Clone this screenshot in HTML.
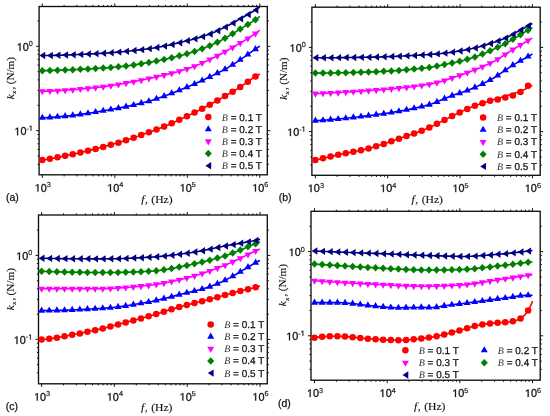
<!DOCTYPE html>
<html><head><meta charset="utf-8"><style>
html,body{margin:0;padding:0;background:#fff;}
svg{display:block;filter:blur(0.3px);}
.tl{font-family:"Liberation Sans",sans-serif;font-size:10.8px;fill:#111;stroke:#111;stroke-width:0.3px;}
.sup{font-size:7.3px;stroke-width:0.15px;}
.one{fill:#111;stroke:#111;stroke-width:0.3px;}
.sub{font-size:6.8px;}
.yl{font-size:10.1px;}
.al{font-family:"Liberation Serif",serif;font-size:10.3px;fill:#111;stroke:#111;stroke-width:0.12px;}
.pl{font-family:"Liberation Sans",sans-serif;font-size:10.5px;fill:#111;stroke:#111;stroke-width:0.25px;}
.lg{font-family:"Liberation Sans",sans-serif;font-size:10px;fill:#111;stroke:#111;stroke-width:0.25px;}
.B{font-family:"Liberation Serif",serif;font-style:italic;font-size:10px;stroke:none;fill:#333;}
</style></head><body>
<svg width="550" height="416" viewBox="0 0 550 416">
<rect width="550" height="416" fill="#fff"/>
<rect x="39.1" y="6.5" width="228.2" height="168.3" fill="none" stroke="#111" stroke-width="1.35"/>
<path d="M42.3 174.8v3.0M42.3 6.5v-3.0M64.12 174.8v1.6M64.12 6.5v-1.6M76.89 174.8v1.6M76.89 6.5v-1.6M85.95 174.8v1.6M85.95 6.5v-1.6M92.98 174.8v1.6M92.98 6.5v-1.6M98.72 174.8v1.6M98.72 6.5v-1.6M103.57 174.8v1.6M103.57 6.5v-1.6M107.77 174.8v1.6M107.77 6.5v-1.6M111.48 174.8v1.6M111.48 6.5v-1.6M114.8 174.8v3.0M114.8 6.5v-3.0M136.62 174.8v1.6M136.62 6.5v-1.6M149.39 174.8v1.6M149.39 6.5v-1.6M158.45 174.8v1.6M158.45 6.5v-1.6M165.48 174.8v1.6M165.48 6.5v-1.6M171.22 174.8v1.6M171.22 6.5v-1.6M176.07 174.8v1.6M176.07 6.5v-1.6M180.27 174.8v1.6M180.27 6.5v-1.6M183.98 174.8v1.6M183.98 6.5v-1.6M187.3 174.8v3.0M187.3 6.5v-3.0M209.12 174.8v1.6M209.12 6.5v-1.6M221.89 174.8v1.6M221.89 6.5v-1.6M230.95 174.8v1.6M230.95 6.5v-1.6M237.98 174.8v1.6M237.98 6.5v-1.6M243.72 174.8v1.6M243.72 6.5v-1.6M248.57 174.8v1.6M248.57 6.5v-1.6M252.77 174.8v1.6M252.77 6.5v-1.6M256.48 174.8v1.6M256.48 6.5v-1.6M259.8 174.8v3.0M259.8 6.5v-3.0M39.1 164.29h-1.6M267.3 164.29h1.6M39.1 156.11h-1.6M267.3 156.11h1.6M39.1 149.42h-1.6M267.3 149.42h1.6M39.1 143.77h-1.6M267.3 143.77h1.6M39.1 138.88h-1.6M267.3 138.88h1.6M39.1 134.56h-1.6M267.3 134.56h1.6M39.1 130.7h-3.0M267.3 130.7h3.0M39.1 105.29h-1.6M267.3 105.29h1.6M39.1 90.43h-1.6M267.3 90.43h1.6M39.1 79.89h-1.6M267.3 79.89h1.6M39.1 71.71h-1.6M267.3 71.71h1.6M39.1 65.02h-1.6M267.3 65.02h1.6M39.1 59.37h-1.6M267.3 59.37h1.6M39.1 54.48h-1.6M267.3 54.48h1.6M39.1 50.16h-1.6M267.3 50.16h1.6M39.1 46.3h-3.0M267.3 46.3h3.0M39.1 20.89h-1.6M267.3 20.89h1.6" stroke="#111" stroke-width="1" fill="none"/>
<path d="M37.48 191.6L37.48 185.08L35.8 186.27L35.8 185.38L37.56 184.17L38.44 184.17L38.44 191.6Z" class="one"/><text x="40.77" y="191.6" class="tl">0</text><text transform="translate(46.78 187.1) skewX(0.4)" class="tl sup">3</text>
<path d="M109.98 191.6L109.98 185.08L108.3 186.27L108.3 185.38L110.06 184.17L110.94 184.17L110.94 191.6Z" class="one"/><text x="113.27" y="191.6" class="tl">0</text><text transform="translate(119.28 187.1) skewX(0.4)" class="tl sup">4</text>
<path d="M182.48 191.6L182.48 185.08L180.8 186.27L180.8 185.38L182.56 184.17L183.44 184.17L183.44 191.6Z" class="one"/><text x="185.77" y="191.6" class="tl">0</text><text transform="translate(191.78 187.1) skewX(0.4)" class="tl sup">5</text>
<path d="M254.98 191.6L254.98 185.08L253.3 186.27L253.3 185.38L255.06 184.17L255.94 184.17L255.94 191.6Z" class="one"/><text x="258.27" y="191.6" class="tl">0</text><text transform="translate(264.28 187.1) skewX(0.4)" class="tl sup">6</text>
<path d="M19.55 50.8L19.55 44.28L17.87 45.47L17.87 44.58L19.63 43.37L20.5 43.37L20.5 50.8Z" class="one"/><text x="22.84" y="50.8" class="tl">0</text><text transform="translate(28.84 46.3) skewX(0.4)" class="tl sup">0</text>
<path d="M17.12 135.2L17.12 128.68L15.44 129.87L15.44 128.98L17.2 127.77L18.07 127.77L18.07 135.2ZM30.68 130.7L30.68 126.29L29.54 127.1L29.54 126.49L30.73 125.68L31.32 125.68L31.32 130.7Z" class="one"/><text x="20.41" y="135.2" class="tl">0</text><text transform="translate(26.41 130.7) skewX(0.4)" class="tl sup">-</text>
<text transform="translate(156.9 203) scale(1.13 1)" text-anchor="middle" class="al"><tspan font-style="italic">f</tspan><tspan dx="0.5">,</tspan><tspan dx="0.5"> (Hz)</tspan></text>
<text transform="translate(13.9 99.2) rotate(-90) scale(1.085 1)" class="al yl"><tspan font-style="italic">k</tspan><tspan class="sub" font-style="italic" dx="0.3" dy="2.3">x</tspan><tspan dx="1.1" dy="-2.3">,</tspan><tspan dx="-0.4"> (N/m)</tspan></text>
<text x="6" y="200.8" class="pl">(a)</text>
<path d="M42.3 160.1L44.13 159.8L45.96 159.48L47.78 159.17L49.61 158.84L51.44 158.51L53.27 158.18L55.09 157.84L56.92 157.49L58.75 157.13L60.58 156.77L62.41 156.41L64.23 156.04L66.06 155.66L67.89 155.28L69.72 154.89L71.54 154.49L73.37 154.1L75.2 153.69L77.03 153.28L78.85 152.87L80.68 152.45L82.51 152.03L84.34 151.6L86.17 151.17L87.99 150.74L89.82 150.3L91.65 149.85L93.48 149.41L95.3 148.96L97.13 148.5L98.96 148.03L100.79 147.56L102.62 147.08L104.44 146.6L106.27 146.1L108.1 145.6L109.93 145.1L111.75 144.58L113.58 144.06L115.41 143.53L117.24 143L119.06 142.45L120.89 141.89L122.72 141.32L124.55 140.73L126.38 140.14L128.2 139.53L130.03 138.92L131.86 138.3L133.69 137.68L135.51 137.06L137.34 136.43L139.17 135.79L141 135.15L142.83 134.5L144.65 133.84L146.48 133.17L148.31 132.51L150.14 131.85L151.96 131.19L153.79 130.51L155.62 129.82L157.45 129.12L159.27 128.4L161.1 127.68L162.93 126.94L164.76 126.18L166.59 125.41L168.41 124.64L170.24 123.86L172.07 123.08L173.9 122.28L175.72 121.47L177.55 120.65L179.38 119.82L181.21 118.98L183.04 118.13L184.86 117.26L186.69 116.39L188.52 115.52L190.35 114.64L192.17 113.75L194 112.85L195.83 111.94L197.66 111.02L199.48 110.1L201.31 109.17L203.14 108.21L204.97 107.24L206.8 106.26L208.62 105.27L210.45 104.28L212.28 103.27L214.11 102.25L215.93 101.23L217.76 100.21L219.59 99.18L221.42 98.15L223.25 97.11L225.07 96.07L226.9 95.02L228.73 93.96L230.56 92.89L232.38 91.81L234.21 90.71L236.04 89.59L237.87 88.47L239.69 87.32L241.52 86.15L243.35 84.9L245.18 83.61L247.01 82.3L248.83 80.99L250.66 79.72L252.49 78.45L254.32 77.22L256.14 76.07L257.97 75L259.8 74" fill="none" stroke="#ff0000" stroke-width="1.6"/>
<circle cx="42.3" cy="160.1" r="3.25" fill="#ff0000"/>
<circle cx="49.91" cy="158.79" r="3.25" fill="#ff0000"/>
<circle cx="57.52" cy="157.37" r="3.25" fill="#ff0000"/>
<circle cx="65.14" cy="155.85" r="3.25" fill="#ff0000"/>
<circle cx="72.75" cy="154.23" r="3.25" fill="#ff0000"/>
<circle cx="80.36" cy="152.53" r="3.25" fill="#ff0000"/>
<circle cx="87.97" cy="150.74" r="3.25" fill="#ff0000"/>
<circle cx="95.59" cy="148.88" r="3.25" fill="#ff0000"/>
<circle cx="103.2" cy="146.93" r="3.25" fill="#ff0000"/>
<circle cx="110.81" cy="144.85" r="3.25" fill="#ff0000"/>
<circle cx="118.42" cy="142.64" r="3.25" fill="#ff0000"/>
<circle cx="126.04" cy="140.25" r="3.25" fill="#ff0000"/>
<circle cx="133.65" cy="137.7" r="3.25" fill="#ff0000"/>
<circle cx="141.26" cy="135.05" r="3.25" fill="#ff0000"/>
<circle cx="148.88" cy="132.3" r="3.25" fill="#ff0000"/>
<circle cx="156.49" cy="129.49" r="3.25" fill="#ff0000"/>
<circle cx="164.1" cy="126.46" r="3.25" fill="#ff0000"/>
<circle cx="171.71" cy="123.24" r="3.25" fill="#ff0000"/>
<circle cx="179.32" cy="119.84" r="3.25" fill="#ff0000"/>
<circle cx="186.94" cy="116.28" r="3.25" fill="#ff0000"/>
<circle cx="194.55" cy="112.57" r="3.25" fill="#ff0000"/>
<circle cx="202.16" cy="108.72" r="3.25" fill="#ff0000"/>
<circle cx="209.77" cy="104.65" r="3.25" fill="#ff0000"/>
<circle cx="217.39" cy="100.42" r="3.25" fill="#ff0000"/>
<circle cx="225" cy="96.11" r="3.25" fill="#ff0000"/>
<circle cx="232.61" cy="91.67" r="3.25" fill="#ff0000"/>
<circle cx="240.22" cy="86.99" r="3.25" fill="#ff0000"/>
<circle cx="247.84" cy="81.7" r="3.25" fill="#ff0000"/>
<circle cx="255.45" cy="76.49" r="3.25" fill="#ff0000"/>
<path d="M42.3 117.8L44.13 117.71L45.96 117.62L47.78 117.52L49.61 117.41L51.44 117.29L53.27 117.17L55.09 117.04L56.92 116.89L58.75 116.74L60.58 116.58L62.41 116.42L64.23 116.26L66.06 116.09L67.89 115.91L69.72 115.73L71.54 115.54L73.37 115.33L75.2 115.11L77.03 114.88L78.85 114.64L80.68 114.39L82.51 114.14L84.34 113.87L86.17 113.59L87.99 113.3L89.82 113.01L91.65 112.71L93.48 112.42L95.3 112.11L97.13 111.81L98.96 111.51L100.79 111.21L102.62 110.9L104.44 110.59L106.27 110.28L108.1 109.96L109.93 109.64L111.75 109.32L113.58 108.99L115.41 108.66L117.24 108.32L119.06 107.98L120.89 107.63L122.72 107.27L124.55 106.9L126.38 106.53L128.2 106.15L130.03 105.77L131.86 105.37L133.69 104.97L135.51 104.55L137.34 104.13L139.17 103.7L141 103.25L142.83 102.8L144.65 102.33L146.48 101.85L148.31 101.36L150.14 100.86L151.96 100.32L153.79 99.73L155.62 99.12L157.45 98.49L159.27 97.84L161.1 97.19L162.93 96.53L164.76 95.85L166.59 95.16L168.41 94.47L170.24 93.77L172.07 93.08L173.9 92.38L175.72 91.68L177.55 90.97L179.38 90.26L181.21 89.53L183.04 88.78L184.86 88.02L186.69 87.27L188.52 86.56L190.35 85.84L192.17 85.07L194 84.27L195.83 83.44L197.66 82.6L199.48 81.76L201.31 80.91L203.14 80.05L204.97 79.18L206.8 78.3L208.62 77.41L210.45 76.53L212.28 75.64L214.11 74.76L215.93 73.86L217.76 72.96L219.59 72.05L221.42 71.14L223.25 70.2L225.07 69.22L226.9 68.2L228.73 67.15L230.56 66.06L232.38 64.93L234.21 63.76L236.04 62.57L237.87 61.35L239.69 60.13L241.52 58.89L243.35 57.62L245.18 56.33L247.01 55.04L248.83 53.75L250.66 52.46L252.49 51.18L254.32 49.89L256.14 48.61L257.97 47.31L259.8 46" fill="none" stroke="#0000ff" stroke-width="1.6"/>
<path d="M42.3 113.73L45.8 119.83L38.8 119.83Z" fill="#0000ff"/>
<path d="M49.91 113.32L53.41 119.42L46.41 119.42Z" fill="#0000ff"/>
<path d="M57.52 112.77L61.02 118.87L54.02 118.87Z" fill="#0000ff"/>
<path d="M65.14 112.11L68.64 118.21L61.64 118.21Z" fill="#0000ff"/>
<path d="M72.75 111.34L76.25 117.44L69.25 117.44Z" fill="#0000ff"/>
<path d="M80.36 110.37L83.86 116.47L76.86 116.47Z" fill="#0000ff"/>
<path d="M87.97 109.23L91.47 115.33L84.47 115.33Z" fill="#0000ff"/>
<path d="M95.59 108L99.09 114.1L92.09 114.1Z" fill="#0000ff"/>
<path d="M103.2 106.73L106.7 112.83L99.7 112.83Z" fill="#0000ff"/>
<path d="M110.81 105.42L114.31 111.52L107.31 111.52Z" fill="#0000ff"/>
<path d="M118.42 104.03L121.92 110.13L114.92 110.13Z" fill="#0000ff"/>
<path d="M126.04 102.54L129.54 108.64L122.54 108.64Z" fill="#0000ff"/>
<path d="M133.65 100.91L137.15 107.01L130.15 107.01Z" fill="#0000ff"/>
<path d="M141.26 99.12L144.76 105.22L137.76 105.22Z" fill="#0000ff"/>
<path d="M148.88 97.14L152.38 103.24L145.38 103.24Z" fill="#0000ff"/>
<path d="M156.49 94.76L159.99 100.86L152.99 100.86Z" fill="#0000ff"/>
<path d="M164.1 92.03L167.6 98.13L160.6 98.13Z" fill="#0000ff"/>
<path d="M171.71 89.14L175.21 95.24L168.21 95.24Z" fill="#0000ff"/>
<path d="M179.32 86.21L182.82 92.31L175.82 92.31Z" fill="#0000ff"/>
<path d="M186.94 83.11L190.44 89.21L183.44 89.21Z" fill="#0000ff"/>
<path d="M194.55 79.95L198.05 86.05L191.05 86.05Z" fill="#0000ff"/>
<path d="M202.16 76.44L205.66 82.54L198.66 82.54Z" fill="#0000ff"/>
<path d="M209.77 72.79L213.27 78.89L206.27 78.89Z" fill="#0000ff"/>
<path d="M217.39 69.08L220.89 75.18L213.89 75.18Z" fill="#0000ff"/>
<path d="M225 65.19L228.5 71.29L221.5 71.29Z" fill="#0000ff"/>
<path d="M232.61 60.72L236.11 66.82L229.11 66.82Z" fill="#0000ff"/>
<path d="M240.22 55.71L243.72 61.81L236.72 61.81Z" fill="#0000ff"/>
<path d="M247.84 50.38L251.34 56.48L244.34 56.48Z" fill="#0000ff"/>
<path d="M255.45 45.03L258.95 51.13L251.95 51.13Z" fill="#0000ff"/>
<path d="M42.3 91.2L44.13 91.17L45.96 91.13L47.78 91.08L49.61 91.03L51.44 90.96L53.27 90.89L55.09 90.81L56.92 90.72L58.75 90.63L60.58 90.52L62.41 90.41L64.23 90.3L66.06 90.18L67.89 90.05L69.72 89.92L71.54 89.78L73.37 89.64L75.2 89.49L77.03 89.34L78.85 89.18L80.68 89.02L82.51 88.86L84.34 88.7L86.17 88.53L87.99 88.36L89.82 88.19L91.65 88.02L93.48 87.84L95.3 87.66L97.13 87.49L98.96 87.3L100.79 87.09L102.62 86.86L104.44 86.61L106.27 86.35L108.1 86.08L109.93 85.8L111.75 85.51L113.58 85.22L115.41 84.92L117.24 84.62L119.06 84.33L120.89 84.02L122.72 83.71L124.55 83.39L126.38 83.06L128.2 82.73L130.03 82.39L131.86 82.04L133.69 81.69L135.51 81.33L137.34 80.96L139.17 80.59L141 80.22L142.83 79.84L144.65 79.45L146.48 79.06L148.31 78.67L150.14 78.27L151.96 77.87L153.79 77.47L155.62 77.06L157.45 76.66L159.27 76.24L161.1 75.83L162.93 75.41L164.76 74.98L166.59 74.54L168.41 74.1L170.24 73.64L172.07 73.18L173.9 72.71L175.72 72.22L177.55 71.72L179.38 71.21L181.21 70.68L183.04 70.14L184.86 69.58L186.69 69L188.52 68.4L190.35 67.77L192.17 67.1L194 66.41L195.83 65.68L197.66 64.94L199.48 64.17L201.31 63.38L203.14 62.57L204.97 61.74L206.8 60.9L208.62 60.04L210.45 59.17L212.28 58.29L214.11 57.41L215.93 56.52L217.76 55.62L219.59 54.7L221.42 53.74L223.25 52.75L225.07 51.74L226.9 50.71L228.73 49.67L230.56 48.62L232.38 47.56L234.21 46.5L236.04 45.44L237.87 44.39L239.69 43.33L241.52 42.27L243.35 41.2L245.18 40.1L247.01 38.99L248.83 37.85L250.66 36.67L252.49 35.46L254.32 34.22L256.14 32.92L257.97 31.54L259.8 30" fill="none" stroke="#ff00ff" stroke-width="1.6"/>
<path d="M42.3 95.27L45.8 89.17L38.8 89.17Z" fill="#ff00ff"/>
<path d="M49.91 95.09L53.41 88.99L46.41 88.99Z" fill="#ff00ff"/>
<path d="M57.52 94.76L61.02 88.66L54.02 88.66Z" fill="#ff00ff"/>
<path d="M65.14 94.31L68.64 88.21L61.64 88.21Z" fill="#ff00ff"/>
<path d="M72.75 93.75L76.25 87.65L69.25 87.65Z" fill="#ff00ff"/>
<path d="M80.36 93.12L83.86 87.02L76.86 87.02Z" fill="#ff00ff"/>
<path d="M87.97 92.43L91.47 86.33L84.47 86.33Z" fill="#ff00ff"/>
<path d="M95.59 91.7L99.09 85.6L92.09 85.6Z" fill="#ff00ff"/>
<path d="M103.2 90.85L106.7 84.75L99.7 84.75Z" fill="#ff00ff"/>
<path d="M110.81 89.73L114.31 83.63L107.31 83.63Z" fill="#ff00ff"/>
<path d="M118.42 88.5L121.92 82.4L114.92 82.4Z" fill="#ff00ff"/>
<path d="M126.04 87.19L129.54 81.09L122.54 81.09Z" fill="#ff00ff"/>
<path d="M133.65 85.76L137.15 79.66L130.15 79.66Z" fill="#ff00ff"/>
<path d="M141.26 84.23L144.76 78.13L137.76 78.13Z" fill="#ff00ff"/>
<path d="M148.88 82.61L152.38 76.51L145.38 76.51Z" fill="#ff00ff"/>
<path d="M156.49 80.94L159.99 74.84L152.99 74.84Z" fill="#ff00ff"/>
<path d="M164.1 79.2L167.6 73.1L160.6 73.1Z" fill="#ff00ff"/>
<path d="M171.71 77.34L175.21 71.24L168.21 71.24Z" fill="#ff00ff"/>
<path d="M179.32 75.29L182.82 69.19L175.82 69.19Z" fill="#ff00ff"/>
<path d="M186.94 72.99L190.44 66.89L183.44 66.89Z" fill="#ff00ff"/>
<path d="M194.55 70.26L198.05 64.16L191.05 64.16Z" fill="#ff00ff"/>
<path d="M202.16 67.07L205.66 60.97L198.66 60.97Z" fill="#ff00ff"/>
<path d="M209.77 63.56L213.27 57.46L206.27 57.46Z" fill="#ff00ff"/>
<path d="M217.39 59.88L220.89 53.78L213.89 53.78Z" fill="#ff00ff"/>
<path d="M225 55.85L228.5 49.75L221.5 49.75Z" fill="#ff00ff"/>
<path d="M232.61 51.49L236.11 45.39L229.11 45.39Z" fill="#ff00ff"/>
<path d="M240.22 47.09L243.72 40.99L236.72 40.99Z" fill="#ff00ff"/>
<path d="M247.84 42.54L251.34 36.44L244.34 36.44Z" fill="#ff00ff"/>
<path d="M255.45 37.49L258.95 31.39L251.95 31.39Z" fill="#ff00ff"/>
<path d="M42.3 70.7L44.13 70.66L45.96 70.62L47.78 70.57L49.61 70.52L51.44 70.47L53.27 70.41L55.09 70.35L56.92 70.29L58.75 70.22L60.58 70.16L62.41 70.09L64.23 70.01L66.06 69.94L67.89 69.86L69.72 69.78L71.54 69.7L73.37 69.62L75.2 69.53L77.03 69.44L78.85 69.35L80.68 69.26L82.51 69.17L84.34 69.08L86.17 68.98L87.99 68.89L89.82 68.79L91.65 68.69L93.48 68.59L95.3 68.49L97.13 68.39L98.96 68.29L100.79 68.18L102.62 68.07L104.44 67.95L106.27 67.83L108.1 67.71L109.93 67.57L111.75 67.44L113.58 67.29L115.41 67.14L117.24 66.97L119.06 66.8L120.89 66.61L122.72 66.4L124.55 66.18L126.38 65.95L128.2 65.71L130.03 65.46L131.86 65.21L133.69 64.94L135.51 64.65L137.34 64.36L139.17 64.06L141 63.76L142.83 63.45L144.65 63.14L146.48 62.82L148.31 62.5L150.14 62.18L151.96 61.84L153.79 61.5L155.62 61.16L157.45 60.81L159.27 60.45L161.1 60.08L162.93 59.7L164.76 59.31L166.59 58.91L168.41 58.5L170.24 58.09L172.07 57.66L173.9 57.22L175.72 56.78L177.55 56.32L179.38 55.85L181.21 55.38L183.04 54.9L184.86 54.4L186.69 53.89L188.52 53.36L190.35 52.81L192.17 52.23L194 51.62L195.83 51L197.66 50.35L199.48 49.7L201.31 49.03L203.14 48.33L204.97 47.62L206.8 46.89L208.62 46.15L210.45 45.4L212.28 44.6L214.11 43.79L215.93 42.96L217.76 42.09L219.59 41.18L221.42 40.22L223.25 39.17L225.07 38.12L226.9 37.07L228.73 36L230.56 34.92L232.38 33.82L234.21 32.72L236.04 31.6L237.87 30.47L239.69 29.33L241.52 28.18L243.35 27.09L245.18 26.03L247.01 24.97L248.83 23.89L250.66 22.76L252.49 21.61L254.32 20.43L256.14 19.2L257.97 17.9L259.8 16.5" fill="none" stroke="#008000" stroke-width="1.6"/>
<path d="M42.3 66.95L45.85 70.7L42.3 74.45L38.75 70.7Z" fill="#008000"/>
<path d="M49.91 66.76L53.46 70.51L49.91 74.26L46.36 70.51Z" fill="#008000"/>
<path d="M57.52 66.52L61.07 70.27L57.52 74.02L53.98 70.27Z" fill="#008000"/>
<path d="M65.14 66.23L68.69 69.98L65.14 73.73L61.59 69.98Z" fill="#008000"/>
<path d="M72.75 65.89L76.3 69.64L72.75 73.39L69.2 69.64Z" fill="#008000"/>
<path d="M80.36 65.53L83.91 69.28L80.36 73.03L76.81 69.28Z" fill="#008000"/>
<path d="M87.97 65.14L91.52 68.89L87.97 72.64L84.42 68.89Z" fill="#008000"/>
<path d="M95.59 64.73L99.14 68.48L95.59 72.23L92.04 68.48Z" fill="#008000"/>
<path d="M103.2 64.28L106.75 68.03L103.2 71.78L99.65 68.03Z" fill="#008000"/>
<path d="M110.81 63.76L114.36 67.51L110.81 71.26L107.26 67.51Z" fill="#008000"/>
<path d="M118.42 63.11L121.97 66.86L118.42 70.61L114.88 66.86Z" fill="#008000"/>
<path d="M126.04 62.25L129.59 66L126.04 69.75L122.49 66Z" fill="#008000"/>
<path d="M133.65 61.19L137.2 64.94L133.65 68.69L130.1 64.94Z" fill="#008000"/>
<path d="M141.26 59.97L144.81 63.72L141.26 67.47L137.71 63.72Z" fill="#008000"/>
<path d="M148.88 58.65L152.43 62.4L148.88 66.15L145.32 62.4Z" fill="#008000"/>
<path d="M156.49 57.24L160.04 60.99L156.49 64.74L152.94 60.99Z" fill="#008000"/>
<path d="M164.1 55.7L167.65 59.45L164.1 63.2L160.55 59.45Z" fill="#008000"/>
<path d="M171.71 53.99L175.26 57.74L171.71 61.49L168.16 57.74Z" fill="#008000"/>
<path d="M179.32 52.12L182.88 55.87L179.32 59.62L175.77 55.87Z" fill="#008000"/>
<path d="M186.94 50.07L190.49 53.82L186.94 57.57L183.39 53.82Z" fill="#008000"/>
<path d="M194.55 47.69L198.1 51.44L194.55 55.19L191 51.44Z" fill="#008000"/>
<path d="M202.16 44.96L205.71 48.71L202.16 52.46L198.61 48.71Z" fill="#008000"/>
<path d="M209.77 41.93L213.32 45.68L209.77 49.43L206.22 45.68Z" fill="#008000"/>
<path d="M217.39 38.52L220.94 42.27L217.39 46.02L213.84 42.27Z" fill="#008000"/>
<path d="M225 34.41L228.55 38.16L225 41.91L221.45 38.16Z" fill="#008000"/>
<path d="M232.61 29.94L236.16 33.69L232.61 37.44L229.06 33.69Z" fill="#008000"/>
<path d="M240.22 25.25L243.77 29L240.22 32.75L236.67 29Z" fill="#008000"/>
<path d="M247.84 20.73L251.39 24.48L247.84 28.23L244.29 24.48Z" fill="#008000"/>
<path d="M255.45 15.92L259 19.67L255.45 23.42L251.9 19.67Z" fill="#008000"/>
<path d="M42.3 55.5L44.13 55.49L45.96 55.48L47.78 55.46L49.61 55.43L51.44 55.4L53.27 55.37L55.09 55.33L56.92 55.28L58.75 55.24L60.58 55.19L62.41 55.13L64.23 55.07L66.06 55.01L67.89 54.94L69.72 54.87L71.54 54.8L73.37 54.73L75.2 54.65L77.03 54.57L78.85 54.49L80.68 54.41L82.51 54.32L84.34 54.23L86.17 54.14L87.99 54.05L89.82 53.96L91.65 53.87L93.48 53.78L95.3 53.69L97.13 53.59L98.96 53.5L100.79 53.39L102.62 53.28L104.44 53.17L106.27 53.04L108.1 52.91L109.93 52.78L111.75 52.64L113.58 52.49L115.41 52.34L117.24 52.18L119.06 52.02L120.89 51.85L122.72 51.68L124.55 51.5L126.38 51.31L128.2 51.12L130.03 50.93L131.86 50.73L133.69 50.53L135.51 50.32L137.34 50.1L139.17 49.88L141 49.66L142.83 49.43L144.65 49.2L146.48 48.97L148.31 48.73L150.14 48.48L151.96 48.22L153.79 47.95L155.62 47.66L157.45 47.35L159.27 47.02L161.1 46.68L162.93 46.33L164.76 45.96L166.59 45.58L168.41 45.19L170.24 44.79L172.07 44.38L173.9 43.96L175.72 43.54L177.55 43.11L179.38 42.67L181.21 42.23L183.04 41.78L184.86 41.33L186.69 40.88L188.52 40.42L190.35 39.95L192.17 39.48L194 38.98L195.83 38.48L197.66 37.96L199.48 37.42L201.31 36.87L203.14 36.29L204.97 35.69L206.8 35.08L208.62 34.44L210.45 33.76L212.28 33.03L214.11 32.26L215.93 31.45L217.76 30.61L219.59 29.74L221.42 28.86L223.25 27.97L225.07 27.07L226.9 26.14L228.73 25.19L230.56 24.22L232.38 23.22L234.21 22.21L236.04 21.19L237.87 20.17L239.69 19.14L241.52 18.11L243.35 17.07L245.18 16.03L247.01 14.97L248.83 13.91L250.66 12.84L252.49 11.75L254.32 10.65L256.14 9.53L257.97 8.39L259.8 7.2" fill="none" stroke="#000080" stroke-width="1.6"/>
<path d="M39.4 55.5L45.2 51.8L45.2 59.2Z" fill="#000080"/>
<path d="M47.01 55.43L52.81 51.73L52.81 59.13Z" fill="#000080"/>
<path d="M54.62 55.27L60.42 51.57L60.42 58.97Z" fill="#000080"/>
<path d="M62.24 55.04L68.04 51.34L68.04 58.74Z" fill="#000080"/>
<path d="M69.85 54.75L75.65 51.05L75.65 58.45Z" fill="#000080"/>
<path d="M77.46 54.42L83.26 50.72L83.26 58.12Z" fill="#000080"/>
<path d="M85.07 54.06L90.88 50.36L90.88 57.76Z" fill="#000080"/>
<path d="M92.69 53.67L98.49 49.97L98.49 57.37Z" fill="#000080"/>
<path d="M100.3 53.25L106.1 49.55L106.1 56.95Z" fill="#000080"/>
<path d="M107.91 52.71L113.71 49.01L113.71 56.41Z" fill="#000080"/>
<path d="M115.52 52.08L121.33 48.38L121.33 55.78Z" fill="#000080"/>
<path d="M123.14 51.35L128.94 47.65L128.94 55.05Z" fill="#000080"/>
<path d="M130.75 50.53L136.55 46.83L136.55 54.23Z" fill="#000080"/>
<path d="M138.36 49.63L144.16 45.93L144.16 53.33Z" fill="#000080"/>
<path d="M145.97 48.65L151.78 44.95L151.78 52.35Z" fill="#000080"/>
<path d="M153.59 47.51L159.39 43.81L159.39 51.21Z" fill="#000080"/>
<path d="M161.2 46.1L167 42.4L167 49.8Z" fill="#000080"/>
<path d="M168.81 44.46L174.61 40.76L174.61 48.16Z" fill="#000080"/>
<path d="M176.42 42.68L182.22 38.98L182.22 46.38Z" fill="#000080"/>
<path d="M184.04 40.82L189.84 37.12L189.84 44.52Z" fill="#000080"/>
<path d="M191.65 38.83L197.45 35.13L197.45 42.53Z" fill="#000080"/>
<path d="M199.26 36.6L205.06 32.9L205.06 40.3Z" fill="#000080"/>
<path d="M206.87 34.02L212.67 30.32L212.67 37.72Z" fill="#000080"/>
<path d="M214.49 30.78L220.29 27.08L220.29 34.48Z" fill="#000080"/>
<path d="M222.1 27.11L227.9 23.41L227.9 30.81Z" fill="#000080"/>
<path d="M229.71 23.1L235.51 19.4L235.51 26.8Z" fill="#000080"/>
<path d="M237.32 18.84L243.12 15.14L243.12 22.54Z" fill="#000080"/>
<path d="M244.94 14.49L250.74 10.79L250.74 18.19Z" fill="#000080"/>
<path d="M252.55 9.96L258.35 6.26L258.35 13.66Z" fill="#000080"/>
<circle cx="208.3" cy="117.1" r="3.25" fill="#ff0000"/>
<text transform="translate(221.8 120.5) skewX(0.4)" class="lg"><tspan class="B">B</tspan> = 0.1 T</text>
<path d="M208.3 125.18L211.8 131.28L204.8 131.28Z" fill="#0000ff"/>
<text transform="translate(221.8 132.65) skewX(0.4)" class="lg"><tspan class="B">B</tspan> = 0.2 T</text>
<path d="M208.3 145.47L211.8 139.37L204.8 139.37Z" fill="#ff00ff"/>
<text transform="translate(221.8 144.8) skewX(0.4)" class="lg"><tspan class="B">B</tspan> = 0.3 T</text>
<path d="M208.3 149.8L211.85 153.55L208.3 157.3L204.75 153.55Z" fill="#008000"/>
<text transform="translate(221.8 156.95) skewX(0.4)" class="lg"><tspan class="B">B</tspan> = 0.4 T</text>
<path d="M205.4 165.7L211.2 162L211.2 169.4Z" fill="#000080"/>
<text transform="translate(221.8 169.1) skewX(0.4)" class="lg"><tspan class="B">B</tspan> = 0.5 T</text>
<rect x="311.9" y="7.2" width="228.3" height="168.1" fill="none" stroke="#111" stroke-width="1.35"/>
<path d="M315.4 175.3v3.0M315.4 7.2v-3.0M337.17 175.3v1.6M337.17 7.2v-1.6M349.91 175.3v1.6M349.91 7.2v-1.6M358.95 175.3v1.6M358.95 7.2v-1.6M365.96 175.3v1.6M365.96 7.2v-1.6M371.69 175.3v1.6M371.69 7.2v-1.6M376.53 175.3v1.6M376.53 7.2v-1.6M380.72 175.3v1.6M380.72 7.2v-1.6M384.42 175.3v1.6M384.42 7.2v-1.6M387.73 175.3v3.0M387.73 7.2v-3.0M409.51 175.3v1.6M409.51 7.2v-1.6M422.25 175.3v1.6M422.25 7.2v-1.6M431.28 175.3v1.6M431.28 7.2v-1.6M438.29 175.3v1.6M438.29 7.2v-1.6M444.02 175.3v1.6M444.02 7.2v-1.6M448.86 175.3v1.6M448.86 7.2v-1.6M453.06 175.3v1.6M453.06 7.2v-1.6M456.76 175.3v1.6M456.76 7.2v-1.6M460.07 175.3v3.0M460.07 7.2v-3.0M481.84 175.3v1.6M481.84 7.2v-1.6M494.58 175.3v1.6M494.58 7.2v-1.6M503.62 175.3v1.6M503.62 7.2v-1.6M510.63 175.3v1.6M510.63 7.2v-1.6M516.35 175.3v1.6M516.35 7.2v-1.6M521.2 175.3v1.6M521.2 7.2v-1.6M525.39 175.3v1.6M525.39 7.2v-1.6M529.09 175.3v1.6M529.09 7.2v-1.6M532.4 175.3v3.0M532.4 7.2v-3.0M311.9 165.11h-1.6M540.2 165.11h1.6M311.9 156.95h-1.6M540.2 156.95h1.6M311.9 150.28h-1.6M540.2 150.28h1.6M311.9 144.64h-1.6M540.2 144.64h1.6M311.9 139.76h-1.6M540.2 139.76h1.6M311.9 135.45h-1.6M540.2 135.45h1.6M311.9 131.6h-3.0M540.2 131.6h3.0M311.9 106.25h-1.6M540.2 106.25h1.6M311.9 91.43h-1.6M540.2 91.43h1.6M311.9 80.91h-1.6M540.2 80.91h1.6M311.9 72.75h-1.6M540.2 72.75h1.6M311.9 66.08h-1.6M540.2 66.08h1.6M311.9 60.44h-1.6M540.2 60.44h1.6M311.9 55.56h-1.6M540.2 55.56h1.6M311.9 51.25h-1.6M540.2 51.25h1.6M311.9 47.4h-3.0M540.2 47.4h3.0M311.9 22.05h-1.6M540.2 22.05h1.6" stroke="#111" stroke-width="1" fill="none"/>
<path d="M310.58 192.1L310.58 185.58L308.9 186.77L308.9 185.88L310.66 184.67L311.54 184.67L311.54 192.1Z" class="one"/><text x="313.87" y="192.1" class="tl">0</text><text transform="translate(319.88 187.6) skewX(0.4)" class="tl sup">3</text>
<path d="M382.91 192.1L382.91 185.58L381.24 186.77L381.24 185.88L382.99 184.67L383.87 184.67L383.87 192.1Z" class="one"/><text x="386.2" y="192.1" class="tl">0</text><text transform="translate(392.21 187.6) skewX(0.4)" class="tl sup">4</text>
<path d="M455.25 192.1L455.25 185.58L453.57 186.77L453.57 185.88L455.33 184.67L456.2 184.67L456.2 192.1Z" class="one"/><text x="458.54" y="192.1" class="tl">0</text><text transform="translate(464.54 187.6) skewX(0.4)" class="tl sup">5</text>
<path d="M527.58 192.1L527.58 185.58L525.9 186.77L525.9 185.88L527.66 184.67L528.54 184.67L528.54 192.1Z" class="one"/><text x="530.87" y="192.1" class="tl">0</text><text transform="translate(536.88 187.6) skewX(0.4)" class="tl sup">6</text>
<path d="M292.35 51.9L292.35 45.38L290.67 46.57L290.67 45.68L292.43 44.47L293.3 44.47L293.3 51.9Z" class="one"/><text x="295.64" y="51.9" class="tl">0</text><text transform="translate(301.64 47.4) skewX(0.4)" class="tl sup">0</text>
<path d="M289.92 136.1L289.92 129.58L288.24 130.77L288.24 129.88L290 128.67L290.87 128.67L290.87 136.1ZM303.48 131.6L303.48 127.19L302.34 128L302.34 127.39L303.53 126.58L304.12 126.58L304.12 131.6Z" class="one"/><text x="293.21" y="136.1" class="tl">0</text><text transform="translate(299.21 131.6) skewX(0.4)" class="tl sup">-</text>
<text transform="translate(427.2 202.5) scale(1.13 1)" text-anchor="middle" class="al"><tspan font-style="italic">f</tspan><tspan dx="0.5">,</tspan><tspan dx="0.5"> (Hz)</tspan></text>
<text transform="translate(286.6 99.7) rotate(-90) scale(1.085 1)" class="al yl"><tspan font-style="italic">k</tspan><tspan class="sub" font-style="italic" dx="0.3" dy="2.3">x</tspan><tspan dx="1.1" dy="-2.3">,</tspan><tspan dx="-0.4"> (N/m)</tspan></text>
<text x="278.7" y="200.6" class="pl">(b)</text>
<path d="M315.4 160.1L317.22 159.67L319.05 159.24L320.87 158.81L322.69 158.38L324.52 157.96L326.34 157.53L328.16 157.11L329.99 156.69L331.81 156.28L333.64 155.87L335.46 155.46L337.28 155.05L339.11 154.64L340.93 154.25L342.75 153.87L344.58 153.49L346.4 153.13L348.22 152.76L350.05 152.4L351.87 152.04L353.69 151.68L355.52 151.32L357.34 150.94L359.16 150.57L360.99 150.18L362.81 149.78L364.64 149.36L366.46 148.93L368.28 148.48L370.11 148.01L371.93 147.52L373.75 147.01L375.58 146.48L377.4 145.93L379.22 145.36L381.05 144.78L382.87 144.19L384.69 143.59L386.52 142.97L388.34 142.35L390.16 141.73L391.99 141.1L393.81 140.47L395.64 139.83L397.46 139.2L399.28 138.57L401.11 137.95L402.93 137.33L404.75 136.7L406.58 136.08L408.4 135.45L410.22 134.82L412.05 134.18L413.87 133.54L415.69 132.88L417.52 132.21L419.34 131.54L421.16 130.84L422.99 130.14L424.81 129.41L426.64 128.67L428.46 127.9L430.28 127.11L432.11 126.27L433.93 125.39L435.75 124.47L437.58 123.53L439.4 122.58L441.22 121.63L443.05 120.68L444.87 119.77L446.69 118.85L448.52 117.92L450.34 117L452.16 116.07L453.99 115.16L455.81 114.25L457.64 113.37L459.46 112.5L461.28 111.66L463.11 110.82L464.93 110L466.75 109.18L468.58 108.38L470.4 107.6L472.22 106.85L474.05 106.14L475.87 105.45L477.69 104.8L479.52 104.18L481.34 103.58L483.16 103L484.99 102.42L486.81 101.86L488.64 101.29L490.46 100.71L492.28 100.14L494.11 99.57L495.93 99.01L497.75 98.46L499.58 97.9L501.4 97.34L503.22 96.78L505.05 96.21L506.87 95.63L508.69 95.07L510.52 94.52L512.34 93.96L514.16 93.39L515.99 92.81L517.81 92.19L519.64 91.53L521.46 90.82L523.28 90.04L525.11 89.21L526.93 88.31L528.75 87.38L530.58 86.4L532.4 85.39" fill="none" stroke="#ff0000" stroke-width="1.6"/>
<circle cx="315.4" cy="160.1" r="3.25" fill="#ff0000"/>
<circle cx="323" cy="158.31" r="3.25" fill="#ff0000"/>
<circle cx="330.59" cy="156.56" r="3.25" fill="#ff0000"/>
<circle cx="338.18" cy="154.85" r="3.25" fill="#ff0000"/>
<circle cx="345.78" cy="153.25" r="3.25" fill="#ff0000"/>
<circle cx="353.38" cy="151.75" r="3.25" fill="#ff0000"/>
<circle cx="360.97" cy="150.18" r="3.25" fill="#ff0000"/>
<circle cx="368.56" cy="148.41" r="3.25" fill="#ff0000"/>
<circle cx="376.16" cy="146.3" r="3.25" fill="#ff0000"/>
<circle cx="383.75" cy="143.9" r="3.25" fill="#ff0000"/>
<circle cx="391.35" cy="141.32" r="3.25" fill="#ff0000"/>
<circle cx="398.94" cy="138.69" r="3.25" fill="#ff0000"/>
<circle cx="406.54" cy="136.09" r="3.25" fill="#ff0000"/>
<circle cx="414.13" cy="133.44" r="3.25" fill="#ff0000"/>
<circle cx="421.73" cy="130.63" r="3.25" fill="#ff0000"/>
<circle cx="429.32" cy="127.53" r="3.25" fill="#ff0000"/>
<circle cx="436.92" cy="123.87" r="3.25" fill="#ff0000"/>
<circle cx="444.51" cy="119.94" r="3.25" fill="#ff0000"/>
<circle cx="452.11" cy="116.1" r="3.25" fill="#ff0000"/>
<circle cx="459.7" cy="112.39" r="3.25" fill="#ff0000"/>
<circle cx="467.3" cy="108.94" r="3.25" fill="#ff0000"/>
<circle cx="474.89" cy="105.81" r="3.25" fill="#ff0000"/>
<circle cx="482.49" cy="103.21" r="3.25" fill="#ff0000"/>
<circle cx="490.08" cy="100.83" r="3.25" fill="#ff0000"/>
<circle cx="497.68" cy="99.48" r="3.25" fill="#ff0000"/>
<circle cx="505.27" cy="97.53" r="3.25" fill="#ff0000"/>
<circle cx="512.87" cy="95.5" r="3.25" fill="#ff0000"/>
<circle cx="520.46" cy="92.01" r="3.25" fill="#ff0000"/>
<circle cx="528.06" cy="85.74" r="3.25" fill="#ff0000"/>
<path d="M315.4 120.68L317.22 120.58L319.05 120.47L320.87 120.35L322.69 120.23L324.52 120.1L326.34 119.97L328.16 119.83L329.99 119.69L331.81 119.54L333.64 119.39L335.46 119.23L337.28 119.06L339.11 118.9L340.93 118.72L342.75 118.55L344.58 118.36L346.4 118.18L348.22 117.99L350.05 117.8L351.87 117.6L353.69 117.4L355.52 117.19L357.34 116.99L359.16 116.78L360.99 116.57L362.81 116.35L364.64 116.13L366.46 115.91L368.28 115.69L370.11 115.46L371.93 115.23L373.75 115L375.58 114.76L377.4 114.52L379.22 114.28L381.05 114.02L382.87 113.77L384.69 113.5L386.52 113.24L388.34 112.96L390.16 112.68L391.99 112.39L393.81 112.1L395.64 111.8L397.46 111.49L399.28 111.17L401.11 110.85L402.93 110.52L404.75 110.18L406.58 109.83L408.4 109.47L410.22 109.11L412.05 108.73L413.87 108.34L415.69 107.95L417.52 107.54L419.34 107.13L421.16 106.7L422.99 106.26L424.81 105.81L426.64 105.35L428.46 104.88L430.28 104.34L432.11 103.74L433.93 103.08L435.75 102.36L437.58 101.61L439.4 100.84L441.22 100.05L443.05 99.25L444.87 98.46L446.69 97.69L448.52 96.95L450.34 96.24L452.16 95.58L453.99 94.96L455.81 94.35L457.64 93.76L459.46 93.18L461.28 92.59L463.11 91.98L464.93 91.36L466.75 90.7L468.58 90.01L470.4 89.28L472.22 88.53L474.05 87.76L475.87 86.96L477.69 86.14L479.52 85.3L481.34 84.44L483.16 83.55L484.99 82.64L486.81 81.71L488.64 80.75L490.46 79.78L492.28 78.78L494.11 77.73L495.93 76.61L497.75 75.42L499.58 74.19L501.4 72.92L503.22 71.64L505.05 70.35L506.87 69.08L508.69 67.83L510.52 66.62L512.34 65.47L514.16 64.38L515.99 63.33L517.81 62.3L519.64 61.3L521.46 60.3L523.28 59.3L525.11 58.28L526.93 57.24L528.75 56.17L530.58 55.05L532.4 53.87" fill="none" stroke="#0000ff" stroke-width="1.6"/>
<path d="M315.4 116.61L318.9 122.71L311.9 122.71Z" fill="#0000ff"/>
<path d="M323 116.14L326.5 122.24L319.5 122.24Z" fill="#0000ff"/>
<path d="M330.59 115.57L334.09 121.67L327.09 121.67Z" fill="#0000ff"/>
<path d="M338.18 114.91L341.68 121.01L334.68 121.01Z" fill="#0000ff"/>
<path d="M345.78 114.18L349.28 120.28L342.28 120.28Z" fill="#0000ff"/>
<path d="M353.38 113.37L356.88 119.47L349.88 119.47Z" fill="#0000ff"/>
<path d="M360.97 112.5L364.47 118.6L357.47 118.6Z" fill="#0000ff"/>
<path d="M368.56 111.59L372.06 117.69L365.06 117.69Z" fill="#0000ff"/>
<path d="M376.16 110.62L379.66 116.72L372.66 116.72Z" fill="#0000ff"/>
<path d="M383.75 109.57L387.25 115.67L380.25 115.67Z" fill="#0000ff"/>
<path d="M391.35 108.43L394.85 114.53L387.85 114.53Z" fill="#0000ff"/>
<path d="M398.94 107.17L402.44 113.27L395.44 113.27Z" fill="#0000ff"/>
<path d="M406.54 105.77L410.04 111.87L403.04 111.87Z" fill="#0000ff"/>
<path d="M414.13 104.22L417.63 110.32L410.63 110.32Z" fill="#0000ff"/>
<path d="M421.73 102.5L425.23 108.6L418.23 108.6Z" fill="#0000ff"/>
<path d="M429.32 100.57L432.82 106.67L425.82 106.67Z" fill="#0000ff"/>
<path d="M436.92 97.82L440.42 103.92L433.42 103.92Z" fill="#0000ff"/>
<path d="M444.51 94.55L448.01 100.65L441.01 100.65Z" fill="#0000ff"/>
<path d="M452.11 91.54L455.61 97.64L448.61 97.64Z" fill="#0000ff"/>
<path d="M459.7 89.03L463.2 95.13L456.2 95.13Z" fill="#0000ff"/>
<path d="M467.3 86.43L470.8 92.53L463.8 92.53Z" fill="#0000ff"/>
<path d="M474.89 83.32L478.39 89.42L471.39 89.42Z" fill="#0000ff"/>
<path d="M482.49 79.81L485.99 85.91L478.99 85.91Z" fill="#0000ff"/>
<path d="M490.08 75.91L493.58 82.01L486.58 82.01Z" fill="#0000ff"/>
<path d="M497.68 71.41L501.18 77.51L494.18 77.51Z" fill="#0000ff"/>
<path d="M505.27 66.13L508.77 72.23L501.77 72.23Z" fill="#0000ff"/>
<path d="M512.87 61.09L516.37 67.19L509.37 67.19Z" fill="#0000ff"/>
<path d="M520.46 56.77L523.96 62.87L516.96 62.87Z" fill="#0000ff"/>
<path d="M528.06 52.52L531.56 58.62L524.56 58.62Z" fill="#0000ff"/>
<path d="M315.4 93.59L317.22 93.52L319.05 93.46L320.87 93.39L322.69 93.32L324.52 93.24L326.34 93.16L328.16 93.08L329.99 93L331.81 92.91L333.64 92.82L335.46 92.72L337.28 92.63L339.11 92.53L340.93 92.43L342.75 92.32L344.58 92.22L346.4 92.11L348.22 92L350.05 91.88L351.87 91.77L353.69 91.65L355.52 91.53L357.34 91.41L359.16 91.29L360.99 91.16L362.81 91.04L364.64 90.91L366.46 90.78L368.28 90.65L370.11 90.52L371.93 90.39L373.75 90.25L375.58 90.12L377.4 89.98L379.22 89.85L381.05 89.7L382.87 89.56L384.69 89.42L386.52 89.27L388.34 89.12L390.16 88.96L391.99 88.8L393.81 88.64L395.64 88.47L397.46 88.3L399.28 88.12L401.11 87.94L402.93 87.75L404.75 87.56L406.58 87.36L408.4 87.16L410.22 86.95L412.05 86.73L413.87 86.5L415.69 86.27L417.52 86.03L419.34 85.79L421.16 85.53L422.99 85.27L424.81 85L426.64 84.72L428.46 84.43L430.28 84.1L432.11 83.74L433.93 83.34L435.75 82.9L437.58 82.43L439.4 81.93L441.22 81.41L443.05 80.87L444.87 80.3L446.69 79.72L448.52 79.13L450.34 78.52L452.16 77.91L453.99 77.29L455.81 76.68L457.64 76.06L459.46 75.45L461.28 74.83L463.11 74.2L464.93 73.56L466.75 72.91L468.58 72.24L470.4 71.56L472.22 70.87L474.05 70.16L475.87 69.44L477.69 68.71L479.52 67.95L481.34 67.18L483.16 66.39L484.99 65.58L486.81 64.76L488.64 63.91L490.46 63.04L492.28 62.16L494.11 61.23L495.93 60.23L497.75 59.18L499.58 58.07L501.4 56.93L503.22 55.77L505.05 54.59L506.87 53.41L508.69 52.24L510.52 51.09L512.34 49.98L514.16 48.87L515.99 47.77L517.81 46.66L519.64 45.56L521.46 44.46L523.28 43.37L525.11 42.28L526.93 41.21L528.75 40.15L530.58 39.1L532.4 38.09" fill="none" stroke="#ff00ff" stroke-width="1.6"/>
<path d="M315.4 97.65L318.9 91.55L311.9 91.55Z" fill="#ff00ff"/>
<path d="M323 97.37L326.5 91.27L319.5 91.27Z" fill="#ff00ff"/>
<path d="M330.59 97.03L334.09 90.93L327.09 90.93Z" fill="#ff00ff"/>
<path d="M338.18 96.64L341.68 90.54L334.68 90.54Z" fill="#ff00ff"/>
<path d="M345.78 96.21L349.28 90.11L342.28 90.11Z" fill="#ff00ff"/>
<path d="M353.38 95.74L356.88 89.64L349.88 89.64Z" fill="#ff00ff"/>
<path d="M360.97 95.23L364.47 89.13L357.47 89.13Z" fill="#ff00ff"/>
<path d="M368.56 94.7L372.06 88.6L365.06 88.6Z" fill="#ff00ff"/>
<path d="M376.16 94.14L379.66 88.04L372.66 88.04Z" fill="#ff00ff"/>
<path d="M383.75 93.56L387.25 87.46L380.25 87.46Z" fill="#ff00ff"/>
<path d="M391.35 92.92L394.85 86.82L387.85 86.82Z" fill="#ff00ff"/>
<path d="M398.94 92.22L402.44 86.12L395.44 86.12Z" fill="#ff00ff"/>
<path d="M406.54 91.43L410.04 85.33L403.04 85.33Z" fill="#ff00ff"/>
<path d="M414.13 90.54L417.63 84.44L410.63 84.44Z" fill="#ff00ff"/>
<path d="M421.73 89.52L425.23 83.42L418.23 83.42Z" fill="#ff00ff"/>
<path d="M429.32 88.34L432.82 82.24L425.82 82.24Z" fill="#ff00ff"/>
<path d="M436.92 86.67L440.42 80.57L433.42 80.57Z" fill="#ff00ff"/>
<path d="M444.51 84.48L448.01 78.38L441.01 78.38Z" fill="#ff00ff"/>
<path d="M452.11 82L455.61 75.9L448.61 75.9Z" fill="#ff00ff"/>
<path d="M459.7 79.43L463.2 73.33L456.2 73.33Z" fill="#ff00ff"/>
<path d="M467.3 76.77L470.8 70.67L463.8 70.67Z" fill="#ff00ff"/>
<path d="M474.89 73.9L478.39 67.8L471.39 67.8Z" fill="#ff00ff"/>
<path d="M482.49 70.75L485.99 64.65L478.99 64.65Z" fill="#ff00ff"/>
<path d="M490.08 67.29L493.58 61.19L486.58 61.19Z" fill="#ff00ff"/>
<path d="M497.68 63.29L501.18 57.19L494.18 57.19Z" fill="#ff00ff"/>
<path d="M505.27 58.51L508.77 52.41L501.77 52.41Z" fill="#ff00ff"/>
<path d="M512.87 53.72L516.37 47.62L509.37 47.62Z" fill="#ff00ff"/>
<path d="M520.46 49.12L523.96 43.02L516.96 43.02Z" fill="#ff00ff"/>
<path d="M528.06 44.61L531.56 38.51L524.56 38.51Z" fill="#ff00ff"/>
<path d="M315.4 73.1L317.22 73.1L319.05 73.09L320.87 73.08L322.69 73.07L324.52 73.05L326.34 73.03L328.16 73.01L329.99 72.99L331.81 72.96L333.64 72.93L335.46 72.9L337.28 72.86L339.11 72.83L340.93 72.79L342.75 72.75L344.58 72.7L346.4 72.66L348.22 72.61L350.05 72.56L351.87 72.52L353.69 72.46L355.52 72.41L357.34 72.36L359.16 72.3L360.99 72.25L362.81 72.19L364.64 72.14L366.46 72.08L368.28 72.02L370.11 71.96L371.93 71.9L373.75 71.83L375.58 71.76L377.4 71.68L379.22 71.6L381.05 71.51L382.87 71.42L384.69 71.32L386.52 71.22L388.34 71.11L390.16 71L391.99 70.88L393.81 70.76L395.64 70.63L397.46 70.5L399.28 70.36L401.11 70.22L402.93 70.08L404.75 69.93L406.58 69.77L408.4 69.61L410.22 69.45L412.05 69.28L413.87 69.1L415.69 68.92L417.52 68.74L419.34 68.55L421.16 68.36L422.99 68.16L424.81 67.96L426.64 67.76L428.46 67.55L430.28 67.3L432.11 67.01L433.93 66.68L435.75 66.33L437.58 65.96L439.4 65.57L441.22 65.19L443.05 64.8L444.87 64.43L446.69 64.06L448.52 63.7L450.34 63.33L452.16 62.95L453.99 62.57L455.81 62.17L457.64 61.76L459.46 61.33L461.28 60.88L463.11 60.42L464.93 59.94L466.75 59.44L468.58 58.93L470.4 58.39L472.22 57.83L474.05 57.25L475.87 56.64L477.69 56L479.52 55.3L481.34 54.57L483.16 53.8L484.99 53.01L486.81 52.21L488.64 51.4L490.46 50.6L492.28 49.8L494.11 48.99L495.93 48.17L497.75 47.33L499.58 46.48L501.4 45.6L503.22 44.7L505.05 43.78L506.87 42.81L508.69 41.79L510.52 40.75L512.34 39.68L514.16 38.59L515.99 37.5L517.81 36.41L519.64 35.32L521.46 34.2L523.28 33.07L525.11 31.94L526.93 30.83L528.75 29.74L530.58 28.7L532.4 27.69" fill="none" stroke="#008000" stroke-width="1.6"/>
<path d="M315.4 69.35L318.95 73.1L315.4 76.85L311.85 73.1Z" fill="#008000"/>
<path d="M323 69.32L326.55 73.07L323 76.82L319.44 73.07Z" fill="#008000"/>
<path d="M330.59 69.23L334.14 72.98L330.59 76.73L327.04 72.98Z" fill="#008000"/>
<path d="M338.18 69.1L341.73 72.85L338.18 76.6L334.63 72.85Z" fill="#008000"/>
<path d="M345.78 68.92L349.33 72.67L345.78 76.42L342.23 72.67Z" fill="#008000"/>
<path d="M353.38 68.72L356.93 72.47L353.38 76.22L349.82 72.47Z" fill="#008000"/>
<path d="M360.97 68.5L364.52 72.25L360.97 76L357.42 72.25Z" fill="#008000"/>
<path d="M368.56 68.26L372.11 72.01L368.56 75.76L365.01 72.01Z" fill="#008000"/>
<path d="M376.16 67.98L379.71 71.73L376.16 75.48L372.61 71.73Z" fill="#008000"/>
<path d="M383.75 67.62L387.31 71.37L383.75 75.12L380.2 71.37Z" fill="#008000"/>
<path d="M391.35 67.17L394.9 70.92L391.35 74.67L387.8 70.92Z" fill="#008000"/>
<path d="M398.94 66.64L402.49 70.39L398.94 74.14L395.39 70.39Z" fill="#008000"/>
<path d="M406.54 66.02L410.09 69.77L406.54 73.52L402.99 69.77Z" fill="#008000"/>
<path d="M414.13 65.33L417.69 69.08L414.13 72.83L410.58 69.08Z" fill="#008000"/>
<path d="M421.73 64.55L425.28 68.3L421.73 72.05L418.18 68.3Z" fill="#008000"/>
<path d="M429.32 63.68L432.87 67.43L429.32 71.18L425.77 67.43Z" fill="#008000"/>
<path d="M436.92 62.34L440.47 66.09L436.92 69.84L433.37 66.09Z" fill="#008000"/>
<path d="M444.51 60.75L448.06 64.5L444.51 68.25L440.96 64.5Z" fill="#008000"/>
<path d="M452.11 59.21L455.66 62.96L452.11 66.71L448.56 62.96Z" fill="#008000"/>
<path d="M459.7 57.52L463.25 61.27L459.7 65.02L456.15 61.27Z" fill="#008000"/>
<path d="M467.3 55.54L470.85 59.29L467.3 63.04L463.75 59.29Z" fill="#008000"/>
<path d="M474.89 53.22L478.44 56.97L474.89 60.72L471.34 56.97Z" fill="#008000"/>
<path d="M482.49 50.34L486.04 54.09L482.49 57.84L478.94 54.09Z" fill="#008000"/>
<path d="M490.08 47.01L493.63 50.76L490.08 54.51L486.53 50.76Z" fill="#008000"/>
<path d="M497.68 43.61L501.23 47.36L497.68 51.11L494.13 47.36Z" fill="#008000"/>
<path d="M505.27 39.91L508.82 43.66L505.27 47.41L501.72 43.66Z" fill="#008000"/>
<path d="M512.87 35.61L516.42 39.36L512.87 43.11L509.32 39.36Z" fill="#008000"/>
<path d="M520.46 31.06L524.01 34.81L520.46 38.56L516.91 34.81Z" fill="#008000"/>
<path d="M528.06 26.4L531.61 30.15L528.06 33.9L524.51 30.15Z" fill="#008000"/>
<path d="M315.4 57.8L317.22 57.8L319.05 57.8L320.87 57.79L322.69 57.78L324.52 57.77L326.34 57.76L328.16 57.75L329.99 57.74L331.81 57.73L333.64 57.71L335.46 57.69L337.28 57.67L339.11 57.65L340.93 57.63L342.75 57.61L344.58 57.59L346.4 57.56L348.22 57.54L350.05 57.51L351.87 57.48L353.69 57.46L355.52 57.43L357.34 57.4L359.16 57.37L360.99 57.34L362.81 57.31L364.64 57.28L366.46 57.24L368.28 57.21L370.11 57.18L371.93 57.14L373.75 57.1L375.58 57.06L377.4 57.01L379.22 56.96L381.05 56.91L382.87 56.85L384.69 56.79L386.52 56.73L388.34 56.66L390.16 56.59L391.99 56.52L393.81 56.44L395.64 56.36L397.46 56.28L399.28 56.2L401.11 56.11L402.93 56.02L404.75 55.93L406.58 55.84L408.4 55.74L410.22 55.64L412.05 55.54L413.87 55.44L415.69 55.34L417.52 55.23L419.34 55.13L421.16 55.02L422.99 54.91L424.81 54.8L426.64 54.69L428.46 54.57L430.28 54.45L432.11 54.32L433.93 54.17L435.75 54.02L437.58 53.85L439.4 53.68L441.22 53.5L443.05 53.31L444.87 53.11L446.69 52.9L448.52 52.67L450.34 52.42L452.16 52.16L453.99 51.88L455.81 51.59L457.64 51.29L459.46 50.99L461.28 50.68L463.11 50.36L464.93 50.03L466.75 49.69L468.58 49.33L470.4 48.96L472.22 48.57L474.05 48.16L475.87 47.74L477.69 47.28L479.52 46.79L481.34 46.28L483.16 45.74L484.99 45.19L486.81 44.62L488.64 44.04L490.46 43.45L492.28 42.85L494.11 42.25L495.93 41.64L497.75 41.01L499.58 40.36L501.4 39.68L503.22 38.96L505.05 38.21L506.87 37.41L508.69 36.52L510.52 35.57L512.34 34.56L514.16 33.53L515.99 32.49L517.81 31.46L519.64 30.45L521.46 29.45L523.28 28.44L525.11 27.43L526.93 26.43L528.75 25.43L530.58 24.46L532.4 23.49" fill="none" stroke="#000080" stroke-width="1.6"/>
<path d="M312.5 57.8L318.3 54.1L318.3 61.5Z" fill="#000080"/>
<path d="M320.1 57.78L325.89 54.08L325.89 61.48Z" fill="#000080"/>
<path d="M327.69 57.74L333.49 54.04L333.49 61.44Z" fill="#000080"/>
<path d="M335.28 57.66L341.08 53.96L341.08 61.36Z" fill="#000080"/>
<path d="M342.88 57.57L348.68 53.87L348.68 61.27Z" fill="#000080"/>
<path d="M350.48 57.46L356.27 53.76L356.27 61.16Z" fill="#000080"/>
<path d="M358.07 57.34L363.87 53.64L363.87 61.04Z" fill="#000080"/>
<path d="M365.66 57.21L371.46 53.51L371.46 60.91Z" fill="#000080"/>
<path d="M373.26 57.04L379.06 53.34L379.06 60.74Z" fill="#000080"/>
<path d="M380.86 56.82L386.65 53.12L386.65 60.52Z" fill="#000080"/>
<path d="M388.45 56.54L394.25 52.84L394.25 60.24Z" fill="#000080"/>
<path d="M396.04 56.21L401.84 52.51L401.84 59.91Z" fill="#000080"/>
<path d="M403.64 55.84L409.44 52.14L409.44 59.54Z" fill="#000080"/>
<path d="M411.24 55.43L417.03 51.73L417.03 59.13Z" fill="#000080"/>
<path d="M418.83 54.99L424.63 51.29L424.63 58.69Z" fill="#000080"/>
<path d="M426.42 54.51L432.22 50.81L432.22 58.21Z" fill="#000080"/>
<path d="M434.02 53.91L439.82 50.21L439.82 57.61Z" fill="#000080"/>
<path d="M441.62 53.15L447.41 49.45L447.41 56.85Z" fill="#000080"/>
<path d="M449.21 52.17L455.01 48.47L455.01 55.87Z" fill="#000080"/>
<path d="M456.8 50.95L462.6 47.25L462.6 54.65Z" fill="#000080"/>
<path d="M464.4 49.58L470.2 45.88L470.2 53.28Z" fill="#000080"/>
<path d="M472 47.97L477.79 44.27L477.79 51.67Z" fill="#000080"/>
<path d="M479.59 45.95L485.39 42.25L485.39 49.65Z" fill="#000080"/>
<path d="M487.18 43.57L492.98 39.87L492.98 47.27Z" fill="#000080"/>
<path d="M494.78 41.03L500.58 37.33L500.58 44.73Z" fill="#000080"/>
<path d="M502.38 38.11L508.17 34.41L508.17 41.81Z" fill="#000080"/>
<path d="M509.97 34.27L515.77 30.57L515.77 37.97Z" fill="#000080"/>
<path d="M517.56 30L523.36 26.3L523.36 33.7Z" fill="#000080"/>
<path d="M525.16 25.81L530.96 22.11L530.96 29.51Z" fill="#000080"/>
<circle cx="483.1" cy="117.6" r="3.25" fill="#ff0000"/>
<text transform="translate(496.9 121) skewX(0.4)" class="lg"><tspan class="B">B</tspan> = 0.1 T</text>
<path d="M483.1 125.73L486.6 131.83L479.6 131.83Z" fill="#0000ff"/>
<text transform="translate(496.9 133.2) skewX(0.4)" class="lg"><tspan class="B">B</tspan> = 0.2 T</text>
<path d="M483.1 146.07L486.6 139.97L479.6 139.97Z" fill="#ff00ff"/>
<text transform="translate(496.9 145.4) skewX(0.4)" class="lg"><tspan class="B">B</tspan> = 0.3 T</text>
<path d="M483.1 150.45L486.65 154.2L483.1 157.95L479.55 154.2Z" fill="#008000"/>
<text transform="translate(496.9 157.6) skewX(0.4)" class="lg"><tspan class="B">B</tspan> = 0.4 T</text>
<path d="M480.2 166.4L486 162.7L486 170.1Z" fill="#000080"/>
<text transform="translate(496.9 169.8) skewX(0.4)" class="lg"><tspan class="B">B</tspan> = 0.5 T</text>
<rect x="38.5" y="215" width="228.8" height="168.8" fill="none" stroke="#111" stroke-width="1.35"/>
<path d="M41.6 383.8v3.0M41.6 215v-3.0M63.51 383.8v1.6M63.51 215v-1.6M76.33 383.8v1.6M76.33 215v-1.6M85.43 383.8v1.6M85.43 215v-1.6M92.49 383.8v1.6M92.49 215v-1.6M98.25 383.8v1.6M98.25 215v-1.6M103.12 383.8v1.6M103.12 215v-1.6M107.34 383.8v1.6M107.34 215v-1.6M111.07 383.8v1.6M111.07 215v-1.6M114.4 383.8v3.0M114.4 215v-3.0M136.31 383.8v1.6M136.31 215v-1.6M149.13 383.8v1.6M149.13 215v-1.6M158.23 383.8v1.6M158.23 215v-1.6M165.29 383.8v1.6M165.29 215v-1.6M171.05 383.8v1.6M171.05 215v-1.6M175.92 383.8v1.6M175.92 215v-1.6M180.14 383.8v1.6M180.14 215v-1.6M183.87 383.8v1.6M183.87 215v-1.6M187.2 383.8v3.0M187.2 215v-3.0M209.11 383.8v1.6M209.11 215v-1.6M221.93 383.8v1.6M221.93 215v-1.6M231.03 383.8v1.6M231.03 215v-1.6M238.09 383.8v1.6M238.09 215v-1.6M243.85 383.8v1.6M243.85 215v-1.6M248.72 383.8v1.6M248.72 215v-1.6M252.94 383.8v1.6M252.94 215v-1.6M256.67 383.8v1.6M256.67 215v-1.6M260 383.8v3.0M260 215v-3.0M38.5 372.83h-1.6M267.3 372.83h1.6M38.5 364.69h-1.6M267.3 364.69h1.6M38.5 358.04h-1.6M267.3 358.04h1.6M38.5 352.41h-1.6M267.3 352.41h1.6M38.5 347.54h-1.6M267.3 347.54h1.6M38.5 343.24h-1.6M267.3 343.24h1.6M38.5 339.4h-3.0M267.3 339.4h3.0M38.5 314.11h-1.6M267.3 314.11h1.6M38.5 299.32h-1.6M267.3 299.32h1.6M38.5 288.83h-1.6M267.3 288.83h1.6M38.5 280.69h-1.6M267.3 280.69h1.6M38.5 274.04h-1.6M267.3 274.04h1.6M38.5 268.41h-1.6M267.3 268.41h1.6M38.5 263.54h-1.6M267.3 263.54h1.6M38.5 259.24h-1.6M267.3 259.24h1.6M38.5 255.4h-3.0M267.3 255.4h3.0M38.5 230.11h-1.6M267.3 230.11h1.6" stroke="#111" stroke-width="1" fill="none"/>
<path d="M36.78 400.6L36.78 394.08L35.1 395.27L35.1 394.38L36.86 393.17L37.74 393.17L37.74 400.6Z" class="one"/><text x="40.07" y="400.6" class="tl">0</text><text transform="translate(46.08 396.1) skewX(0.4)" class="tl sup">3</text>
<path d="M109.58 400.6L109.58 394.08L107.9 395.27L107.9 394.38L109.66 393.17L110.54 393.17L110.54 400.6Z" class="one"/><text x="112.87" y="400.6" class="tl">0</text><text transform="translate(118.88 396.1) skewX(0.4)" class="tl sup">4</text>
<path d="M182.38 400.6L182.38 394.08L180.7 395.27L180.7 394.38L182.46 393.17L183.34 393.17L183.34 400.6Z" class="one"/><text x="185.67" y="400.6" class="tl">0</text><text transform="translate(191.68 396.1) skewX(0.4)" class="tl sup">5</text>
<path d="M255.18 400.6L255.18 394.08L253.5 395.27L253.5 394.38L255.26 393.17L256.14 393.17L256.14 400.6Z" class="one"/><text x="258.47" y="400.6" class="tl">0</text><text transform="translate(264.48 396.1) skewX(0.4)" class="tl sup">6</text>
<path d="M18.95 259.9L18.95 253.38L17.27 254.57L17.27 253.68L19.03 252.47L19.9 252.47L19.9 259.9Z" class="one"/><text x="22.24" y="259.9" class="tl">0</text><text transform="translate(28.24 255.4) skewX(0.4)" class="tl sup">0</text>
<path d="M16.52 343.9L16.52 337.38L14.84 338.57L14.84 337.68L16.6 336.47L17.47 336.47L17.47 343.9ZM30.08 339.4L30.08 334.99L28.94 335.8L28.94 335.19L30.13 334.38L30.72 334.38L30.72 339.4Z" class="one"/><text x="19.81" y="343.9" class="tl">0</text><text transform="translate(25.81 339.4) skewX(0.4)" class="tl sup">-</text>
<text transform="translate(156.7 411.3) scale(1.13 1)" text-anchor="middle" class="al"><tspan font-style="italic">f</tspan><tspan dx="0.5">,</tspan><tspan dx="0.5"> (Hz)</tspan></text>
<text transform="translate(13.5 310.3) rotate(-90) scale(1.085 1)" class="al yl"><tspan font-style="italic">k</tspan><tspan class="sub" font-style="italic" dx="0.3" dy="2.3">x</tspan><tspan dx="1.1" dy="-2.3">,</tspan><tspan dx="-0.4"> (N/m)</tspan></text>
<text x="5.8" y="410" class="pl">(c)</text>
<path d="M41.6 339.6L43.44 339.44L45.27 339.26L47.11 339.06L48.94 338.85L50.78 338.63L52.61 338.39L54.45 338.13L56.28 337.84L58.12 337.54L59.95 337.22L61.79 336.9L63.62 336.54L65.46 336.17L67.29 335.78L69.13 335.38L70.96 334.96L72.8 334.6L74.64 334.28L76.47 333.97L78.31 333.66L80.14 333.34L81.98 332.99L83.81 332.62L85.65 332.24L87.48 331.85L89.32 331.45L91.15 331.05L92.99 330.64L94.82 330.22L96.66 329.8L98.49 329.4L100.33 329L102.16 328.58L104 328.13L105.84 327.67L107.67 327.2L109.51 326.72L111.34 326.24L113.18 325.76L115.01 325.28L116.85 324.79L118.68 324.3L120.52 323.81L122.35 323.31L124.19 322.81L126.02 322.32L127.86 321.83L129.69 321.35L131.53 320.87L133.36 320.4L135.2 319.93L137.04 319.46L138.87 318.99L140.71 318.5L142.54 318.01L144.38 317.5L146.21 316.99L148.05 316.47L149.88 315.94L151.72 315.39L153.55 314.83L155.39 314.27L157.22 313.71L159.06 313.15L160.89 312.58L162.73 312.01L164.56 311.44L166.4 310.87L168.24 310.3L170.07 309.74L171.91 309.19L173.74 308.65L175.58 308.12L177.41 307.59L179.25 307.07L181.08 306.55L182.92 306.03L184.75 305.52L186.59 305.03L188.42 304.56L190.26 304.11L192.09 303.66L193.93 303.2L195.76 302.74L197.6 302.28L199.44 301.82L201.27 301.36L203.11 300.9L204.94 300.43L206.78 299.96L208.61 299.49L210.45 299.02L212.28 298.53L214.12 298.05L215.95 297.55L217.79 297.05L219.62 296.52L221.46 295.99L223.29 295.45L225.13 294.93L226.96 294.42L228.8 293.93L230.64 293.44L232.47 292.96L234.31 292.49L236.14 292.02L237.98 291.56L239.81 291.11L241.65 290.67L243.48 290.24L245.32 289.82L247.15 289.4L248.99 288.96L250.82 288.51L252.66 288.05L254.49 287.58L256.33 287.09L258.16 286.56L260 286" fill="none" stroke="#ff0000" stroke-width="1.6"/>
<circle cx="41.6" cy="339.6" r="3.25" fill="#ff0000"/>
<circle cx="49.24" cy="338.82" r="3.25" fill="#ff0000"/>
<circle cx="56.89" cy="337.74" r="3.25" fill="#ff0000"/>
<circle cx="64.53" cy="336.36" r="3.25" fill="#ff0000"/>
<circle cx="72.18" cy="334.72" r="3.25" fill="#ff0000"/>
<circle cx="79.82" cy="333.4" r="3.25" fill="#ff0000"/>
<circle cx="87.46" cy="331.85" r="3.25" fill="#ff0000"/>
<circle cx="95.11" cy="330.15" r="3.25" fill="#ff0000"/>
<circle cx="102.75" cy="328.44" r="3.25" fill="#ff0000"/>
<circle cx="110.4" cy="326.49" r="3.25" fill="#ff0000"/>
<circle cx="118.04" cy="324.47" r="3.25" fill="#ff0000"/>
<circle cx="125.68" cy="322.41" r="3.25" fill="#ff0000"/>
<circle cx="133.33" cy="320.41" r="3.25" fill="#ff0000"/>
<circle cx="140.97" cy="318.43" r="3.25" fill="#ff0000"/>
<circle cx="148.62" cy="316.31" r="3.25" fill="#ff0000"/>
<circle cx="156.26" cy="314.01" r="3.25" fill="#ff0000"/>
<circle cx="163.9" cy="311.65" r="3.25" fill="#ff0000"/>
<circle cx="171.55" cy="309.3" r="3.25" fill="#ff0000"/>
<circle cx="179.19" cy="307.08" r="3.25" fill="#ff0000"/>
<circle cx="186.84" cy="304.96" r="3.25" fill="#ff0000"/>
<circle cx="194.48" cy="303.07" r="3.25" fill="#ff0000"/>
<circle cx="202.12" cy="301.14" r="3.25" fill="#ff0000"/>
<circle cx="209.77" cy="299.19" r="3.25" fill="#ff0000"/>
<circle cx="217.41" cy="297.15" r="3.25" fill="#ff0000"/>
<circle cx="225.06" cy="294.95" r="3.25" fill="#ff0000"/>
<circle cx="232.7" cy="292.9" r="3.25" fill="#ff0000"/>
<circle cx="240.34" cy="290.98" r="3.25" fill="#ff0000"/>
<circle cx="247.99" cy="289.2" r="3.25" fill="#ff0000"/>
<circle cx="255.63" cy="287.28" r="3.25" fill="#ff0000"/>
<path d="M41.6 310.6L43.44 310.6L45.27 310.59L47.11 310.57L48.94 310.56L50.78 310.54L52.61 310.52L54.45 310.48L56.28 310.44L58.12 310.39L59.95 310.34L61.79 310.29L63.62 310.23L65.46 310.17L67.29 310.1L69.13 310.03L70.96 309.95L72.8 309.88L74.64 309.8L76.47 309.71L78.31 309.62L80.14 309.53L81.98 309.44L83.81 309.35L85.65 309.26L87.48 309.16L89.32 309.06L91.15 308.96L92.99 308.87L94.82 308.77L96.66 308.66L98.49 308.56L100.33 308.45L102.16 308.33L104 308.2L105.84 308.07L107.67 307.92L109.51 307.77L111.34 307.61L113.18 307.44L115.01 307.25L116.85 307.05L118.68 306.83L120.52 306.61L122.35 306.37L124.19 306.1L126.02 305.82L127.86 305.52L129.69 305.22L131.53 304.92L133.36 304.6L135.2 304.28L137.04 303.96L138.87 303.63L140.71 303.31L142.54 303L144.38 302.7L146.21 302.39L148.05 302.09L149.88 301.77L151.72 301.43L153.55 301.03L155.39 300.62L157.22 300.18L159.06 299.74L160.89 299.31L162.73 298.88L164.56 298.44L166.4 298L168.24 297.55L170.07 297.09L171.91 296.61L173.74 296.12L175.58 295.62L177.41 295.11L179.25 294.62L181.08 294.15L182.92 293.69L184.75 293.24L186.59 292.8L188.42 292.37L190.26 291.95L192.09 291.53L193.93 291.12L195.76 290.71L197.6 290.28L199.44 289.83L201.27 289.33L203.11 288.79L204.94 288.22L206.78 287.62L208.61 287L210.45 286.36L212.28 285.7L214.12 285.02L215.95 284.32L217.79 283.58L219.62 282.82L221.46 282.01L223.29 281.14L225.13 280.25L226.96 279.32L228.8 278.38L230.64 277.4L232.47 276.38L234.31 275.34L236.14 274.27L237.98 273.19L239.81 272.11L241.65 271.02L243.48 269.91L245.32 268.78L247.15 267.66L248.99 266.55L250.82 265.46L252.66 264.36L254.49 263.27L256.33 262.25L258.16 261.33L260 260.5" fill="none" stroke="#0000ff" stroke-width="1.6"/>
<path d="M41.6 306.53L45.1 312.63L38.1 312.63Z" fill="#0000ff"/>
<path d="M49.24 306.49L52.74 312.59L45.74 312.59Z" fill="#0000ff"/>
<path d="M56.89 306.36L60.39 312.46L53.39 312.46Z" fill="#0000ff"/>
<path d="M64.53 306.13L68.03 312.23L61.03 312.23Z" fill="#0000ff"/>
<path d="M72.18 305.84L75.68 311.94L68.68 311.94Z" fill="#0000ff"/>
<path d="M79.82 305.48L83.32 311.58L76.32 311.58Z" fill="#0000ff"/>
<path d="M87.46 305.09L90.96 311.19L83.96 311.19Z" fill="#0000ff"/>
<path d="M95.11 304.68L98.61 310.78L91.61 310.78Z" fill="#0000ff"/>
<path d="M102.75 304.22L106.25 310.32L99.25 310.32Z" fill="#0000ff"/>
<path d="M110.4 303.63L113.9 309.73L106.9 309.73Z" fill="#0000ff"/>
<path d="M118.04 302.84L121.54 308.94L114.54 308.94Z" fill="#0000ff"/>
<path d="M125.68 301.8L129.18 307.9L122.18 307.9Z" fill="#0000ff"/>
<path d="M133.33 300.54L136.83 306.64L129.83 306.64Z" fill="#0000ff"/>
<path d="M140.97 299.2L144.47 305.3L137.47 305.3Z" fill="#0000ff"/>
<path d="M148.62 297.93L152.12 304.03L145.12 304.03Z" fill="#0000ff"/>
<path d="M156.26 296.34L159.76 302.44L152.76 302.44Z" fill="#0000ff"/>
<path d="M163.9 294.53L167.4 300.63L160.4 300.63Z" fill="#0000ff"/>
<path d="M171.55 292.64L175.05 298.74L168.05 298.74Z" fill="#0000ff"/>
<path d="M179.19 290.57L182.69 296.67L175.69 296.67Z" fill="#0000ff"/>
<path d="M186.84 288.67L190.34 294.77L183.34 294.77Z" fill="#0000ff"/>
<path d="M194.48 286.93L197.98 293.03L190.98 293.03Z" fill="#0000ff"/>
<path d="M202.12 285.02L205.62 291.12L198.62 291.12Z" fill="#0000ff"/>
<path d="M209.77 282.53L213.27 288.63L206.27 288.63Z" fill="#0000ff"/>
<path d="M217.41 279.67L220.91 285.77L213.91 285.77Z" fill="#0000ff"/>
<path d="M225.06 276.22L228.56 282.32L221.56 282.32Z" fill="#0000ff"/>
<path d="M232.7 272.18L236.2 278.28L229.2 278.28Z" fill="#0000ff"/>
<path d="M240.34 267.73L243.84 273.83L236.84 273.83Z" fill="#0000ff"/>
<path d="M247.99 263.09L251.49 269.19L244.49 269.19Z" fill="#0000ff"/>
<path d="M255.63 258.56L259.13 264.66L252.13 264.66Z" fill="#0000ff"/>
<path d="M41.6 288.7L43.44 288.7L45.27 288.7L47.11 288.71L48.94 288.71L50.78 288.71L52.61 288.71L54.45 288.72L56.28 288.72L58.12 288.72L59.95 288.72L61.79 288.73L63.62 288.73L65.46 288.73L67.29 288.73L69.13 288.74L70.96 288.74L72.8 288.74L74.64 288.74L76.47 288.75L78.31 288.75L80.14 288.75L81.98 288.75L83.81 288.76L85.65 288.76L87.48 288.76L89.32 288.76L91.15 288.76L92.99 288.77L94.82 288.77L96.66 288.77L98.49 288.77L100.33 288.75L102.16 288.73L104 288.69L105.84 288.64L107.67 288.57L109.51 288.5L111.34 288.43L113.18 288.34L115.01 288.24L116.85 288.13L118.68 288.01L120.52 287.89L122.35 287.76L124.19 287.62L126.02 287.48L127.86 287.33L129.69 287.18L131.53 287.02L133.36 286.86L135.2 286.7L137.04 286.52L138.87 286.35L140.71 286.17L142.54 285.98L144.38 285.79L146.21 285.59L148.05 285.39L149.88 285.19L151.72 284.98L153.55 284.74L155.39 284.49L157.22 284.22L159.06 283.93L160.89 283.63L162.73 283.31L164.56 282.97L166.4 282.61L168.24 282.23L170.07 281.85L171.91 281.46L173.74 281.05L175.58 280.64L177.41 280.21L179.25 279.78L181.08 279.35L182.92 278.91L184.75 278.46L186.59 278.01L188.42 277.55L190.26 277.08L192.09 276.57L193.93 276.05L195.76 275.51L197.6 274.96L199.44 274.39L201.27 273.81L203.11 273.21L204.94 272.6L206.78 271.98L208.61 271.34L210.45 270.7L212.28 270.04L214.12 269.37L215.95 268.69L217.79 268L219.62 267.31L221.46 266.61L223.29 265.89L225.13 265.16L226.96 264.4L228.8 263.63L230.64 262.83L232.47 262L234.31 261.15L236.14 260.29L237.98 259.42L239.81 258.54L241.65 257.66L243.48 256.76L245.32 255.86L247.15 254.96L248.99 254.07L250.82 253.19L252.66 252.31L254.49 251.45L256.33 250.6L258.16 249.79L260 249" fill="none" stroke="#ff00ff" stroke-width="1.6"/>
<path d="M41.6 292.77L45.1 286.67L38.1 286.67Z" fill="#ff00ff"/>
<path d="M49.24 292.78L52.74 286.68L45.74 286.68Z" fill="#ff00ff"/>
<path d="M56.89 292.79L60.39 286.69L53.39 286.69Z" fill="#ff00ff"/>
<path d="M64.53 292.8L68.03 286.7L61.03 286.7Z" fill="#ff00ff"/>
<path d="M72.18 292.81L75.68 286.71L68.68 286.71Z" fill="#ff00ff"/>
<path d="M79.82 292.82L83.32 286.72L76.32 286.72Z" fill="#ff00ff"/>
<path d="M87.46 292.83L90.96 286.73L83.96 286.73Z" fill="#ff00ff"/>
<path d="M95.11 292.84L98.61 286.74L91.61 286.74Z" fill="#ff00ff"/>
<path d="M102.75 292.79L106.25 286.69L99.25 286.69Z" fill="#ff00ff"/>
<path d="M110.4 292.53L113.9 286.43L106.9 286.43Z" fill="#ff00ff"/>
<path d="M118.04 292.12L121.54 286.02L114.54 286.02Z" fill="#ff00ff"/>
<path d="M125.68 291.57L129.18 285.47L122.18 285.47Z" fill="#ff00ff"/>
<path d="M133.33 290.93L136.83 284.83L129.83 284.83Z" fill="#ff00ff"/>
<path d="M140.97 290.21L144.47 284.11L137.47 284.11Z" fill="#ff00ff"/>
<path d="M148.62 289.4L152.12 283.3L145.12 283.3Z" fill="#ff00ff"/>
<path d="M156.26 288.43L159.76 282.33L152.76 282.33Z" fill="#ff00ff"/>
<path d="M163.9 287.16L167.4 281.06L160.4 281.06Z" fill="#ff00ff"/>
<path d="M171.55 285.6L175.05 279.5L168.05 279.5Z" fill="#ff00ff"/>
<path d="M179.19 283.86L182.69 277.76L175.69 277.76Z" fill="#ff00ff"/>
<path d="M186.84 282.01L190.34 275.91L183.34 275.91Z" fill="#ff00ff"/>
<path d="M194.48 279.95L197.98 273.85L190.98 273.85Z" fill="#ff00ff"/>
<path d="M202.12 277.6L205.62 271.5L198.62 271.5Z" fill="#ff00ff"/>
<path d="M209.77 275L213.27 268.9L206.27 268.9Z" fill="#ff00ff"/>
<path d="M217.41 272.21L220.91 266.11L213.91 266.11Z" fill="#ff00ff"/>
<path d="M225.06 269.25L228.56 263.15L221.56 263.15Z" fill="#ff00ff"/>
<path d="M232.7 265.97L236.2 259.87L229.2 259.87Z" fill="#ff00ff"/>
<path d="M240.34 262.35L243.84 256.25L236.84 256.25Z" fill="#ff00ff"/>
<path d="M247.99 258.62L251.49 252.52L244.49 252.52Z" fill="#ff00ff"/>
<path d="M255.63 254.99L259.13 248.89L252.13 248.89Z" fill="#ff00ff"/>
<path d="M41.6 271.3L43.44 271.37L45.27 271.45L47.11 271.52L48.94 271.58L50.78 271.64L52.61 271.7L54.45 271.76L56.28 271.81L58.12 271.87L59.95 271.92L61.79 271.96L63.62 272.01L65.46 272.05L67.29 272.09L69.13 272.13L70.96 272.16L72.8 272.2L74.64 272.23L76.47 272.26L78.31 272.29L80.14 272.31L81.98 272.34L83.81 272.36L85.65 272.39L87.48 272.41L89.32 272.43L91.15 272.45L92.99 272.47L94.82 272.49L96.66 272.5L98.49 272.52L100.33 272.53L102.16 272.54L104 272.53L105.84 272.53L107.67 272.53L109.51 272.53L111.34 272.52L113.18 272.51L115.01 272.49L116.85 272.46L118.68 272.43L120.52 272.39L122.35 272.35L124.19 272.3L126.02 272.25L127.86 272.19L129.69 272.12L131.53 272.06L133.36 272L135.2 271.93L137.04 271.86L138.87 271.79L140.71 271.71L142.54 271.64L144.38 271.56L146.21 271.48L148.05 271.39L149.88 271.31L151.72 271.2L153.55 271.06L155.39 270.89L157.22 270.7L159.06 270.49L160.89 270.27L162.73 270.03L164.56 269.74L166.4 269.44L168.24 269.12L170.07 268.79L171.91 268.45L173.74 268.1L175.58 267.74L177.41 267.37L179.25 266.99L181.08 266.62L182.92 266.25L184.75 265.87L186.59 265.49L188.42 265.1L190.26 264.7L192.09 264.31L193.93 263.91L195.76 263.51L197.6 263.1L199.44 262.68L201.27 262.25L203.11 261.81L204.94 261.36L206.78 260.91L208.61 260.44L210.45 259.97L212.28 259.48L214.12 258.98L215.95 258.48L217.79 257.97L219.62 257.46L221.46 256.95L223.29 256.43L225.13 255.86L226.96 255.24L228.8 254.59L230.64 253.91L232.47 253.21L234.31 252.47L236.14 251.72L237.98 250.96L239.81 250.2L241.65 249.44L243.48 248.66L245.32 247.89L247.15 247.11L248.99 246.34L250.82 245.59L252.66 244.83L254.49 244.08L256.33 243.36L258.16 242.66L260 242" fill="none" stroke="#008000" stroke-width="1.6"/>
<path d="M41.6 267.55L45.15 271.3L41.6 275.05L38.05 271.3Z" fill="#008000"/>
<path d="M49.24 267.84L52.79 271.59L49.24 275.34L45.69 271.59Z" fill="#008000"/>
<path d="M56.89 268.08L60.44 271.83L56.89 275.58L53.34 271.83Z" fill="#008000"/>
<path d="M64.53 268.28L68.08 272.03L64.53 275.78L60.98 272.03Z" fill="#008000"/>
<path d="M72.18 268.43L75.73 272.18L72.18 275.93L68.63 272.18Z" fill="#008000"/>
<path d="M79.82 268.56L83.37 272.31L79.82 276.06L76.27 272.31Z" fill="#008000"/>
<path d="M87.46 268.66L91.01 272.41L87.46 276.16L83.91 272.41Z" fill="#008000"/>
<path d="M95.11 268.74L98.66 272.49L95.11 276.24L91.56 272.49Z" fill="#008000"/>
<path d="M102.75 268.79L106.3 272.54L102.75 276.29L99.2 272.54Z" fill="#008000"/>
<path d="M110.4 268.77L113.95 272.52L110.4 276.27L106.85 272.52Z" fill="#008000"/>
<path d="M118.04 268.69L121.59 272.44L118.04 276.19L114.49 272.44Z" fill="#008000"/>
<path d="M125.68 268.51L129.23 272.26L125.68 276.01L122.13 272.26Z" fill="#008000"/>
<path d="M133.33 268.25L136.88 272L133.33 275.75L129.78 272Z" fill="#008000"/>
<path d="M140.97 267.95L144.52 271.7L140.97 275.45L137.42 271.7Z" fill="#008000"/>
<path d="M148.62 267.62L152.17 271.37L148.62 275.12L145.07 271.37Z" fill="#008000"/>
<path d="M156.26 267.05L159.81 270.8L156.26 274.55L152.71 270.8Z" fill="#008000"/>
<path d="M163.9 266.1L167.45 269.85L163.9 273.6L160.35 269.85Z" fill="#008000"/>
<path d="M171.55 264.77L175.1 268.52L171.55 272.27L168 268.52Z" fill="#008000"/>
<path d="M179.19 263.25L182.74 267L179.19 270.75L175.64 267Z" fill="#008000"/>
<path d="M186.84 261.68L190.39 265.43L186.84 269.18L183.29 265.43Z" fill="#008000"/>
<path d="M194.48 260.04L198.03 263.79L194.48 267.54L190.93 263.79Z" fill="#008000"/>
<path d="M202.12 258.3L205.67 262.05L202.12 265.8L198.57 262.05Z" fill="#008000"/>
<path d="M209.77 256.39L213.32 260.14L209.77 263.89L206.22 260.14Z" fill="#008000"/>
<path d="M217.41 254.33L220.96 258.08L217.41 261.83L213.86 258.08Z" fill="#008000"/>
<path d="M225.06 252.13L228.61 255.88L225.06 259.63L221.51 255.88Z" fill="#008000"/>
<path d="M232.7 249.37L236.25 253.12L232.7 256.87L229.15 253.12Z" fill="#008000"/>
<path d="M240.34 246.23L243.89 249.98L240.34 253.73L236.79 249.98Z" fill="#008000"/>
<path d="M247.99 243.01L251.54 246.76L247.99 250.51L244.44 246.76Z" fill="#008000"/>
<path d="M255.63 239.88L259.18 243.63L255.63 247.38L252.08 243.63Z" fill="#008000"/>
<path d="M41.6 258.2L43.44 258.25L45.27 258.29L47.11 258.34L48.94 258.38L50.78 258.42L52.61 258.45L54.45 258.49L56.28 258.52L58.12 258.55L59.95 258.58L61.79 258.6L63.62 258.63L65.46 258.65L67.29 258.67L69.13 258.69L70.96 258.71L72.8 258.72L74.64 258.74L76.47 258.75L78.31 258.77L80.14 258.78L81.98 258.79L83.81 258.8L85.65 258.81L87.48 258.81L89.32 258.82L91.15 258.83L92.99 258.83L94.82 258.84L96.66 258.84L98.49 258.85L100.33 258.85L102.16 258.85L104 258.84L105.84 258.83L107.67 258.82L109.51 258.8L111.34 258.78L113.18 258.76L115.01 258.73L116.85 258.69L118.68 258.64L120.52 258.59L122.35 258.54L124.19 258.47L126.02 258.39L127.86 258.3L129.69 258.22L131.53 258.13L133.36 258.05L135.2 257.96L137.04 257.87L138.87 257.78L140.71 257.69L142.54 257.6L144.38 257.51L146.21 257.41L148.05 257.31L149.88 257.22L151.72 257.11L153.55 256.99L155.39 256.85L157.22 256.71L159.06 256.56L160.89 256.4L162.73 256.22L164.56 256.03L166.4 255.84L168.24 255.63L170.07 255.42L171.91 255.2L173.74 254.98L175.58 254.74L177.41 254.51L179.25 254.27L181.08 254.03L182.92 253.78L184.75 253.54L186.59 253.29L188.42 253.03L190.26 252.76L192.09 252.47L193.93 252.17L195.76 251.85L197.6 251.53L199.44 251.19L201.27 250.85L203.11 250.49L204.94 250.12L206.78 249.75L208.61 249.37L210.45 248.99L212.28 248.61L214.12 248.22L215.95 247.83L217.79 247.44L219.62 247.06L221.46 246.67L223.29 246.28L225.13 245.93L226.96 245.6L228.8 245.27L230.64 244.95L232.47 244.63L234.31 244.31L236.14 243.99L237.98 243.68L239.81 243.35L241.65 243.02L243.48 242.69L245.32 242.35L247.15 242.01L248.99 241.66L250.82 241.31L252.66 240.97L254.49 240.61L256.33 240.24L258.16 239.84L260 239.4" fill="none" stroke="#000080" stroke-width="1.6"/>
<path d="M38.7 258.2L44.5 254.5L44.5 261.9Z" fill="#000080"/>
<path d="M46.34 258.38L52.14 254.68L52.14 262.08Z" fill="#000080"/>
<path d="M53.99 258.53L59.79 254.83L59.79 262.23Z" fill="#000080"/>
<path d="M61.63 258.64L67.43 254.94L67.43 262.34Z" fill="#000080"/>
<path d="M69.28 258.72L75.08 255.02L75.08 262.42Z" fill="#000080"/>
<path d="M76.92 258.77L82.72 255.07L82.72 262.47Z" fill="#000080"/>
<path d="M84.56 258.81L90.36 255.11L90.36 262.51Z" fill="#000080"/>
<path d="M92.21 258.84L98.01 255.14L98.01 262.54Z" fill="#000080"/>
<path d="M99.85 258.85L105.65 255.15L105.65 262.55Z" fill="#000080"/>
<path d="M107.5 258.79L113.3 255.09L113.3 262.49Z" fill="#000080"/>
<path d="M115.14 258.66L120.94 254.96L120.94 262.36Z" fill="#000080"/>
<path d="M122.78 258.4L128.58 254.7L128.58 262.1Z" fill="#000080"/>
<path d="M130.43 258.05L136.23 254.35L136.23 261.75Z" fill="#000080"/>
<path d="M138.07 257.68L143.87 253.98L143.87 261.38Z" fill="#000080"/>
<path d="M145.72 257.28L151.52 253.58L151.52 260.98Z" fill="#000080"/>
<path d="M153.36 256.78L159.16 253.08L159.16 260.48Z" fill="#000080"/>
<path d="M161 256.1L166.8 252.4L166.8 259.8Z" fill="#000080"/>
<path d="M168.65 255.24L174.45 251.54L174.45 258.94Z" fill="#000080"/>
<path d="M176.29 254.27L182.09 250.57L182.09 257.97Z" fill="#000080"/>
<path d="M183.94 253.25L189.74 249.55L189.74 256.95Z" fill="#000080"/>
<path d="M191.58 252.07L197.38 248.37L197.38 255.77Z" fill="#000080"/>
<path d="M199.22 250.68L205.02 246.98L205.02 254.38Z" fill="#000080"/>
<path d="M206.87 249.13L212.67 245.43L212.67 252.83Z" fill="#000080"/>
<path d="M214.51 247.52L220.31 243.82L220.31 251.22Z" fill="#000080"/>
<path d="M222.16 245.94L227.96 242.24L227.96 249.64Z" fill="#000080"/>
<path d="M229.8 244.59L235.6 240.89L235.6 248.29Z" fill="#000080"/>
<path d="M237.44 243.26L243.24 239.56L243.24 246.96Z" fill="#000080"/>
<path d="M245.09 241.85L250.89 238.15L250.89 245.55Z" fill="#000080"/>
<path d="M252.73 240.39L258.53 236.69L258.53 244.09Z" fill="#000080"/>
<circle cx="210.7" cy="324.5" r="3.25" fill="#ff0000"/>
<text transform="translate(224.2 327.9) skewX(0.4)" class="lg"><tspan class="B">B</tspan> = 0.1 T</text>
<path d="M210.7 332.58L214.2 338.68L207.2 338.68Z" fill="#0000ff"/>
<text transform="translate(224.2 340.05) skewX(0.4)" class="lg"><tspan class="B">B</tspan> = 0.2 T</text>
<path d="M210.7 352.87L214.2 346.77L207.2 346.77Z" fill="#ff00ff"/>
<text transform="translate(224.2 352.2) skewX(0.4)" class="lg"><tspan class="B">B</tspan> = 0.3 T</text>
<path d="M210.7 357.2L214.25 360.95L210.7 364.7L207.15 360.95Z" fill="#008000"/>
<text transform="translate(224.2 364.35) skewX(0.4)" class="lg"><tspan class="B">B</tspan> = 0.4 T</text>
<path d="M207.8 373.1L213.6 369.4L213.6 376.8Z" fill="#000080"/>
<text transform="translate(224.2 376.5) skewX(0.4)" class="lg"><tspan class="B">B</tspan> = 0.5 T</text>
<rect x="311" y="211.3" width="229.2" height="168.9" fill="none" stroke="#111" stroke-width="1.35"/>
<path d="M314.5 380.2v3.0M314.5 211.3v-3.0M336.37 380.2v1.6M336.37 211.3v-1.6M349.17 380.2v1.6M349.17 211.3v-1.6M358.25 380.2v1.6M358.25 211.3v-1.6M365.29 380.2v1.6M365.29 211.3v-1.6M371.05 380.2v1.6M371.05 211.3v-1.6M375.91 380.2v1.6M375.91 211.3v-1.6M380.12 380.2v1.6M380.12 211.3v-1.6M383.84 380.2v1.6M383.84 211.3v-1.6M387.17 380.2v3.0M387.17 211.3v-3.0M409.04 380.2v1.6M409.04 211.3v-1.6M421.84 380.2v1.6M421.84 211.3v-1.6M430.92 380.2v1.6M430.92 211.3v-1.6M437.96 380.2v1.6M437.96 211.3v-1.6M443.71 380.2v1.6M443.71 211.3v-1.6M448.58 380.2v1.6M448.58 211.3v-1.6M452.79 380.2v1.6M452.79 211.3v-1.6M456.51 380.2v1.6M456.51 211.3v-1.6M459.83 380.2v3.0M459.83 211.3v-3.0M481.71 380.2v1.6M481.71 211.3v-1.6M494.5 380.2v1.6M494.5 211.3v-1.6M503.58 380.2v1.6M503.58 211.3v-1.6M510.63 380.2v1.6M510.63 211.3v-1.6M516.38 380.2v1.6M516.38 211.3v-1.6M521.24 380.2v1.6M521.24 211.3v-1.6M525.46 380.2v1.6M525.46 211.3v-1.6M529.17 380.2v1.6M529.17 211.3v-1.6M532.5 380.2v3.0M532.5 211.3v-3.0M311 369.31h-1.6M540.2 369.31h1.6M311 361.15h-1.6M540.2 361.15h1.6M311 354.48h-1.6M540.2 354.48h1.6M311 348.84h-1.6M540.2 348.84h1.6M311 343.96h-1.6M540.2 343.96h1.6M311 339.65h-1.6M540.2 339.65h1.6M311 335.8h-3.0M540.2 335.8h3.0M311 310.45h-1.6M540.2 310.45h1.6M311 295.63h-1.6M540.2 295.63h1.6M311 285.11h-1.6M540.2 285.11h1.6M311 276.95h-1.6M540.2 276.95h1.6M311 270.28h-1.6M540.2 270.28h1.6M311 264.64h-1.6M540.2 264.64h1.6M311 259.76h-1.6M540.2 259.76h1.6M311 255.45h-1.6M540.2 255.45h1.6M311 251.6h-3.0M540.2 251.6h3.0M311 226.25h-1.6M540.2 226.25h1.6" stroke="#111" stroke-width="1" fill="none"/>
<path d="M309.68 397L309.68 390.48L308 391.67L308 390.78L309.76 389.57L310.64 389.57L310.64 397Z" class="one"/><text x="312.97" y="397" class="tl">0</text><text transform="translate(318.98 392.5) skewX(0.4)" class="tl sup">3</text>
<path d="M382.35 397L382.35 390.48L380.67 391.67L380.67 390.78L382.43 389.57L383.3 389.57L383.3 397Z" class="one"/><text x="385.64" y="397" class="tl">0</text><text transform="translate(391.64 392.5) skewX(0.4)" class="tl sup">4</text>
<path d="M455.01 397L455.01 390.48L453.34 391.67L453.34 390.78L455.09 389.57L455.97 389.57L455.97 397Z" class="one"/><text x="458.3" y="397" class="tl">0</text><text transform="translate(464.31 392.5) skewX(0.4)" class="tl sup">5</text>
<path d="M527.68 397L527.68 390.48L526 391.67L526 390.78L527.76 389.57L528.64 389.57L528.64 397Z" class="one"/><text x="530.97" y="397" class="tl">0</text><text transform="translate(536.98 392.5) skewX(0.4)" class="tl sup">6</text>
<path d="M291.45 256.1L291.45 249.58L289.77 250.77L289.77 249.88L291.53 248.67L292.4 248.67L292.4 256.1Z" class="one"/><text x="294.74" y="256.1" class="tl">0</text><text transform="translate(300.74 251.6) skewX(0.4)" class="tl sup">0</text>
<path d="M289.02 340.3L289.02 333.78L287.34 334.97L287.34 334.08L289.1 332.87L289.97 332.87L289.97 340.3ZM302.58 335.8L302.58 331.39L301.44 332.2L301.44 331.59L302.63 330.78L303.22 330.78L303.22 335.8Z" class="one"/><text x="292.31" y="340.3" class="tl">0</text><text transform="translate(298.31 335.8) skewX(0.4)" class="tl sup">-</text>
<text transform="translate(429.7 409.5) scale(1.13 1)" text-anchor="middle" class="al"><tspan font-style="italic">f</tspan><tspan dx="0.5">,</tspan><tspan dx="0.5"> (Hz)</tspan></text>
<text transform="translate(286.2 306.2) rotate(-90) scale(1.085 1)" class="al yl"><tspan font-style="italic">k</tspan><tspan class="sub" font-style="italic" dx="0.3" dy="2.3">x</tspan><tspan dx="1.1" dy="-2.3">,</tspan><tspan dx="-0.4"> (N/m)</tspan></text>
<text x="278" y="406.5" class="pl">(d)</text>
<path d="M314.5 337.7L316.33 337.41L318.16 337.15L320 336.92L321.83 336.75L323.66 336.61L325.49 336.47L327.32 336.37L329.16 336.31L330.99 336.3L332.82 336.3L334.65 336.3L336.48 336.3L338.32 336.3L340.15 336.32L341.98 336.38L343.81 336.45L345.64 336.53L347.47 336.68L349.31 336.88L351.14 337.1L352.97 337.3L354.8 337.48L356.63 337.67L358.47 337.85L360.3 338.03L362.13 338.2L363.96 338.36L365.79 338.52L367.63 338.67L369.46 338.81L371.29 338.93L373.12 339.05L374.95 339.16L376.79 339.28L378.62 339.4L380.45 339.52L382.28 339.63L384.11 339.73L385.95 339.84L387.78 339.95L389.61 340.05L391.44 340.15L393.27 340.23L395.11 340.28L396.94 340.3L398.77 340.29L400.6 340.25L402.43 340.19L404.26 340.1L406.1 340L407.93 339.87L409.76 339.73L411.59 339.57L413.42 339.4L415.26 339.21L417.09 339.02L418.92 338.81L420.75 338.59L422.58 338.37L424.42 338.14L426.25 337.91L428.08 337.67L429.91 337.43L431.74 337.15L433.58 336.82L435.41 336.45L437.24 336.04L439.07 335.62L440.9 335.18L442.74 334.74L444.57 334.31L446.4 333.87L448.23 333.42L450.06 332.95L451.89 332.47L453.73 331.98L455.56 331.48L457.39 330.98L459.22 330.48L461.05 329.98L462.89 329.45L464.72 328.9L466.55 328.34L468.38 327.79L470.21 327.26L472.05 326.75L473.88 326.3L475.71 325.89L477.54 325.51L479.37 325.14L481.21 324.79L483.04 324.46L484.87 324.15L486.7 323.87L488.53 323.62L490.37 323.41L492.2 323.24L494.03 323.1L495.86 322.98L497.69 322.87L499.53 322.76L501.36 322.65L503.19 322.52L505.02 322.37L506.85 322.18L508.68 321.97L510.52 321.72L512.35 321.41L514.18 321.02L516.01 320.49L517.84 319.79L519.68 318.93L521.51 317.88L523.34 316.41L525.17 314.47L527 312.13L528.84 309.42L530.67 305.73L532.5 301.16" fill="none" stroke="#ff0000" stroke-width="1.6"/>
<circle cx="314.5" cy="337.7" r="3.25" fill="#ff0000"/>
<circle cx="322.13" cy="336.72" r="3.25" fill="#ff0000"/>
<circle cx="329.76" cy="336.3" r="3.25" fill="#ff0000"/>
<circle cx="337.39" cy="336.3" r="3.25" fill="#ff0000"/>
<circle cx="345.02" cy="336.5" r="3.25" fill="#ff0000"/>
<circle cx="352.65" cy="337.26" r="3.25" fill="#ff0000"/>
<circle cx="360.28" cy="338.03" r="3.25" fill="#ff0000"/>
<circle cx="367.91" cy="338.69" r="3.25" fill="#ff0000"/>
<circle cx="375.54" cy="339.2" r="3.25" fill="#ff0000"/>
<circle cx="383.17" cy="339.68" r="3.25" fill="#ff0000"/>
<circle cx="390.8" cy="340.12" r="3.25" fill="#ff0000"/>
<circle cx="398.43" cy="340.29" r="3.25" fill="#ff0000"/>
<circle cx="406.06" cy="340" r="3.25" fill="#ff0000"/>
<circle cx="413.69" cy="339.37" r="3.25" fill="#ff0000"/>
<circle cx="421.32" cy="338.52" r="3.25" fill="#ff0000"/>
<circle cx="428.95" cy="337.56" r="3.25" fill="#ff0000"/>
<circle cx="436.58" cy="336.19" r="3.25" fill="#ff0000"/>
<circle cx="444.21" cy="334.39" r="3.25" fill="#ff0000"/>
<circle cx="451.84" cy="332.48" r="3.25" fill="#ff0000"/>
<circle cx="459.47" cy="330.42" r="3.25" fill="#ff0000"/>
<circle cx="467.1" cy="328.17" r="3.25" fill="#ff0000"/>
<circle cx="474.73" cy="326.1" r="3.25" fill="#ff0000"/>
<circle cx="482.36" cy="324.58" r="3.25" fill="#ff0000"/>
<circle cx="489.99" cy="323.45" r="3.25" fill="#ff0000"/>
<circle cx="497.62" cy="322.87" r="3.25" fill="#ff0000"/>
<circle cx="505.25" cy="322.34" r="3.25" fill="#ff0000"/>
<circle cx="512.88" cy="321.31" r="3.25" fill="#ff0000"/>
<circle cx="520.51" cy="318.48" r="3.25" fill="#ff0000"/>
<circle cx="528.14" cy="310.49" r="3.25" fill="#ff0000"/>
<path d="M314.5 302.6L316.33 302.6L318.16 302.6L320 302.6L321.83 302.6L323.66 302.6L325.49 302.6L327.32 302.6L329.16 302.6L330.99 302.6L332.82 302.6L334.65 302.6L336.48 302.6L338.32 302.6L340.15 302.62L341.98 302.69L343.81 302.78L345.64 302.88L347.47 303.04L349.31 303.22L351.14 303.43L352.97 303.64L354.8 303.85L356.63 304.07L358.47 304.3L360.3 304.54L362.13 304.77L363.96 304.99L365.79 305.18L367.63 305.37L369.46 305.54L371.29 305.72L373.12 305.89L374.95 306.07L376.79 306.27L378.62 306.47L380.45 306.66L382.28 306.84L384.11 307L385.95 307.16L387.78 307.31L389.61 307.44L391.44 307.56L393.27 307.63L395.11 307.68L396.94 307.7L398.77 307.7L400.6 307.69L402.43 307.67L404.26 307.66L406.1 307.63L407.93 307.59L409.76 307.55L411.59 307.51L413.42 307.48L415.26 307.46L417.09 307.44L418.92 307.42L420.75 307.4L422.58 307.39L424.42 307.4L426.25 307.46L428.08 307.5L429.91 307.48L431.74 307.43L433.58 307.37L435.41 307.23L437.24 307.01L439.07 306.72L440.9 306.41L442.74 306.12L444.57 305.85L446.4 305.57L448.23 305.28L450.06 305.01L451.89 304.78L453.73 304.56L455.56 304.35L457.39 304.14L459.22 303.92L461.05 303.7L462.89 303.48L464.72 303.26L466.55 303.02L468.38 302.79L470.21 302.55L472.05 302.32L473.88 302.08L475.71 301.84L477.54 301.6L479.37 301.36L481.21 301.12L483.04 300.87L484.87 300.63L486.7 300.38L488.53 300.14L490.37 299.89L492.2 299.65L494.03 299.41L495.86 299.17L497.69 298.93L499.53 298.69L501.36 298.46L503.19 298.24L505.02 298L506.85 297.74L508.68 297.47L510.52 297.2L512.35 296.94L514.18 296.68L516.01 296.4L517.84 296.12L519.68 295.87L521.51 295.67L523.34 295.52L525.17 295.39L527 295.27L528.84 295.21L530.67 295.2L532.5 295.2" fill="none" stroke="#0000ff" stroke-width="1.6"/>
<path d="M314.5 298.53L318 304.63L311 304.63Z" fill="#0000ff"/>
<path d="M322.13 298.53L325.63 304.63L318.63 304.63Z" fill="#0000ff"/>
<path d="M329.76 298.53L333.26 304.63L326.26 304.63Z" fill="#0000ff"/>
<path d="M337.39 298.53L340.89 304.63L333.89 304.63Z" fill="#0000ff"/>
<path d="M345.02 298.78L348.52 304.88L341.52 304.88Z" fill="#0000ff"/>
<path d="M352.65 299.54L356.15 305.64L349.15 305.64Z" fill="#0000ff"/>
<path d="M360.28 300.47L363.78 306.57L356.78 306.57Z" fill="#0000ff"/>
<path d="M367.91 301.33L371.41 307.43L364.41 307.43Z" fill="#0000ff"/>
<path d="M375.54 302.07L379.04 308.17L372.04 308.17Z" fill="#0000ff"/>
<path d="M383.17 302.86L386.67 308.96L379.67 308.96Z" fill="#0000ff"/>
<path d="M390.8 303.45L394.3 309.55L387.3 309.55Z" fill="#0000ff"/>
<path d="M398.43 303.63L401.93 309.73L394.93 309.73Z" fill="#0000ff"/>
<path d="M406.06 303.56L409.56 309.66L402.56 309.66Z" fill="#0000ff"/>
<path d="M413.69 303.41L417.19 309.51L410.19 309.51Z" fill="#0000ff"/>
<path d="M421.32 303.33L424.82 309.43L417.82 309.43Z" fill="#0000ff"/>
<path d="M428.95 303.43L432.45 309.53L425.45 309.53Z" fill="#0000ff"/>
<path d="M436.58 303.03L440.08 309.13L433.08 309.13Z" fill="#0000ff"/>
<path d="M444.21 301.84L447.71 307.94L440.71 307.94Z" fill="#0000ff"/>
<path d="M451.84 300.72L455.34 306.82L448.34 306.82Z" fill="#0000ff"/>
<path d="M459.47 299.83L462.97 305.93L455.97 305.93Z" fill="#0000ff"/>
<path d="M467.1 298.89L470.6 304.99L463.6 304.99Z" fill="#0000ff"/>
<path d="M474.73 297.9L478.23 304L471.23 304Z" fill="#0000ff"/>
<path d="M482.36 296.9L485.86 303L478.86 303Z" fill="#0000ff"/>
<path d="M489.99 295.87L493.49 301.97L486.49 301.97Z" fill="#0000ff"/>
<path d="M497.62 294.87L501.12 300.97L494.12 300.97Z" fill="#0000ff"/>
<path d="M505.25 293.9L508.75 300L501.75 300Z" fill="#0000ff"/>
<path d="M512.88 292.8L516.38 298.9L509.38 298.9Z" fill="#0000ff"/>
<path d="M520.51 291.71L524.01 297.81L517.01 297.81Z" fill="#0000ff"/>
<path d="M528.14 291.16L531.64 297.26L524.64 297.26Z" fill="#0000ff"/>
<path d="M314.5 280.7L316.33 280.83L318.16 280.96L320 281.09L321.83 281.21L323.66 281.34L325.49 281.46L327.32 281.58L329.16 281.71L330.99 281.83L332.82 281.95L334.65 282.06L336.48 282.18L338.32 282.3L340.15 282.41L341.98 282.52L343.81 282.63L345.64 282.74L347.47 282.85L349.31 282.96L351.14 283.06L352.97 283.17L354.8 283.27L356.63 283.37L358.47 283.47L360.3 283.56L362.13 283.66L363.96 283.75L365.79 283.84L367.63 283.93L369.46 284.02L371.29 284.11L373.12 284.2L374.95 284.29L376.79 284.39L378.62 284.48L380.45 284.58L382.28 284.68L384.11 284.77L385.95 284.87L387.78 284.97L389.61 285.06L391.44 285.16L393.27 285.25L395.11 285.34L396.94 285.43L398.77 285.51L400.6 285.6L402.43 285.68L404.26 285.75L406.1 285.83L407.93 285.9L409.76 285.96L411.59 286.03L413.42 286.08L415.26 286.12L417.09 286.17L418.92 286.21L420.75 286.24L422.58 286.27L424.42 286.28L426.25 286.3L428.08 286.3L429.91 286.29L431.74 286.26L433.58 286.23L435.41 286.19L437.24 286.13L439.07 286.07L440.9 286.01L442.74 285.94L444.57 285.87L446.4 285.78L448.23 285.69L450.06 285.6L451.89 285.5L453.73 285.4L455.56 285.3L457.39 285.2L459.22 285.09L461.05 284.98L462.89 284.86L464.72 284.71L466.55 284.54L468.38 284.34L470.21 284.14L472.05 283.91L473.88 283.68L475.71 283.42L477.54 283.14L479.37 282.85L481.21 282.55L483.04 282.26L484.87 281.96L486.7 281.65L488.53 281.33L490.37 281.02L492.2 280.71L494.03 280.42L495.86 280.13L497.69 279.85L499.53 279.57L501.36 279.3L503.19 279.03L505.02 278.75L506.85 278.48L508.68 278.2L510.52 277.93L512.35 277.65L514.18 277.37L516.01 277.09L517.84 276.82L519.68 276.54L521.51 276.26L523.34 275.98L525.17 275.7L527 275.42L528.84 275.15L530.67 274.87L532.5 274.6" fill="none" stroke="#ff00ff" stroke-width="1.6"/>
<path d="M314.5 284.77L318 278.67L311 278.67Z" fill="#ff00ff"/>
<path d="M322.13 285.3L325.63 279.2L318.63 279.2Z" fill="#ff00ff"/>
<path d="M329.76 285.81L333.26 279.71L326.26 279.71Z" fill="#ff00ff"/>
<path d="M337.39 286.3L340.89 280.2L333.89 280.2Z" fill="#ff00ff"/>
<path d="M345.02 286.77L348.52 280.67L341.52 280.67Z" fill="#ff00ff"/>
<path d="M352.65 287.22L356.15 281.12L349.15 281.12Z" fill="#ff00ff"/>
<path d="M360.28 287.63L363.78 281.53L356.78 281.53Z" fill="#ff00ff"/>
<path d="M367.91 288.01L371.41 281.91L364.41 281.91Z" fill="#ff00ff"/>
<path d="M375.54 288.39L379.04 282.29L372.04 282.29Z" fill="#ff00ff"/>
<path d="M383.17 288.79L386.67 282.69L379.67 282.69Z" fill="#ff00ff"/>
<path d="M390.8 289.19L394.3 283.09L387.3 283.09Z" fill="#ff00ff"/>
<path d="M398.43 289.56L401.93 283.46L394.93 283.46Z" fill="#ff00ff"/>
<path d="M406.06 289.89L409.56 283.79L402.56 283.79Z" fill="#ff00ff"/>
<path d="M413.69 290.15L417.19 284.05L410.19 284.05Z" fill="#ff00ff"/>
<path d="M421.32 290.32L424.82 284.22L417.82 284.22Z" fill="#ff00ff"/>
<path d="M428.95 290.36L432.45 284.26L425.45 284.26Z" fill="#ff00ff"/>
<path d="M436.58 290.22L440.08 284.12L433.08 284.12Z" fill="#ff00ff"/>
<path d="M444.21 289.95L447.71 283.85L440.71 283.85Z" fill="#ff00ff"/>
<path d="M451.84 289.57L455.34 283.47L448.34 283.47Z" fill="#ff00ff"/>
<path d="M459.47 289.14L462.97 283.04L455.97 283.04Z" fill="#ff00ff"/>
<path d="M467.1 288.55L470.6 282.45L463.6 282.45Z" fill="#ff00ff"/>
<path d="M474.73 287.63L478.23 281.53L471.23 281.53Z" fill="#ff00ff"/>
<path d="M482.36 286.43L485.86 280.33L478.86 280.33Z" fill="#ff00ff"/>
<path d="M489.99 285.15L493.49 279.05L486.49 279.05Z" fill="#ff00ff"/>
<path d="M497.62 283.92L501.12 277.82L494.12 277.82Z" fill="#ff00ff"/>
<path d="M505.25 282.79L508.75 276.69L501.75 276.69Z" fill="#ff00ff"/>
<path d="M512.88 281.64L516.38 275.54L509.38 275.54Z" fill="#ff00ff"/>
<path d="M520.51 280.48L524.01 274.38L517.01 274.38Z" fill="#ff00ff"/>
<path d="M528.14 279.32L531.64 273.22L524.64 273.22Z" fill="#ff00ff"/>
<path d="M314.5 264.1L316.33 264.22L318.16 264.35L320 264.47L321.83 264.59L323.66 264.71L325.49 264.83L327.32 264.95L329.16 265.07L330.99 265.18L332.82 265.3L334.65 265.42L336.48 265.53L338.32 265.65L340.15 265.76L341.98 265.87L343.81 265.98L345.64 266.1L347.47 266.21L349.31 266.32L351.14 266.43L352.97 266.53L354.8 266.64L356.63 266.75L358.47 266.85L360.3 266.96L362.13 267.06L363.96 267.16L365.79 267.27L367.63 267.37L369.46 267.47L371.29 267.57L373.12 267.67L374.95 267.78L376.79 267.89L378.62 268L380.45 268.12L382.28 268.23L384.11 268.34L385.95 268.44L387.78 268.54L389.61 268.64L391.44 268.74L393.27 268.84L395.11 268.94L396.94 269.03L398.77 269.12L400.6 269.21L402.43 269.3L404.26 269.38L406.1 269.46L407.93 269.54L409.76 269.61L411.59 269.68L413.42 269.74L415.26 269.79L417.09 269.84L418.92 269.88L420.75 269.92L422.58 269.95L424.42 269.98L426.25 269.99L428.08 270L429.91 270L431.74 270.01L433.58 270.01L435.41 270L437.24 269.99L439.07 269.97L440.9 269.94L442.74 269.92L444.57 269.9L446.4 269.86L448.23 269.83L450.06 269.79L451.89 269.75L453.73 269.7L455.56 269.66L457.39 269.61L459.22 269.56L461.05 269.51L462.89 269.46L464.72 269.37L466.55 269.27L468.38 269.15L470.21 269.02L472.05 268.87L473.88 268.72L475.71 268.55L477.54 268.36L479.37 268.15L481.21 267.94L483.04 267.73L484.87 267.52L486.7 267.3L488.53 267.08L490.37 266.86L492.2 266.64L494.03 266.44L495.86 266.24L497.69 266.04L499.53 265.83L501.36 265.62L503.19 265.4L505.02 265.17L506.85 264.94L508.68 264.71L510.52 264.47L512.35 264.24L514.18 264L516.01 263.77L517.84 263.54L519.68 263.3L521.51 263.07L523.34 262.83L525.17 262.6L527 262.37L528.84 262.14L530.67 261.92L532.5 261.7" fill="none" stroke="#008000" stroke-width="1.6"/>
<path d="M314.5 260.35L318.05 264.1L314.5 267.85L310.95 264.1Z" fill="#008000"/>
<path d="M322.13 260.86L325.68 264.61L322.13 268.36L318.58 264.61Z" fill="#008000"/>
<path d="M329.76 261.35L333.31 265.1L329.76 268.85L326.21 265.1Z" fill="#008000"/>
<path d="M337.39 261.84L340.94 265.59L337.39 269.34L333.84 265.59Z" fill="#008000"/>
<path d="M345.02 262.31L348.57 266.06L345.02 269.81L341.47 266.06Z" fill="#008000"/>
<path d="M352.65 262.77L356.2 266.52L352.65 270.27L349.1 266.52Z" fill="#008000"/>
<path d="M360.28 263.21L363.83 266.96L360.28 270.71L356.73 266.96Z" fill="#008000"/>
<path d="M367.91 263.63L371.46 267.38L367.91 271.13L364.36 267.38Z" fill="#008000"/>
<path d="M375.54 264.07L379.09 267.82L375.54 271.57L371.99 267.82Z" fill="#008000"/>
<path d="M383.17 264.53L386.72 268.28L383.17 272.03L379.62 268.28Z" fill="#008000"/>
<path d="M390.8 264.96L394.35 268.71L390.8 272.46L387.25 268.71Z" fill="#008000"/>
<path d="M398.43 265.36L401.98 269.11L398.43 272.86L394.88 269.11Z" fill="#008000"/>
<path d="M406.06 265.71L409.61 269.46L406.06 273.21L402.51 269.46Z" fill="#008000"/>
<path d="M413.69 265.99L417.24 269.74L413.69 273.49L410.14 269.74Z" fill="#008000"/>
<path d="M421.32 266.18L424.87 269.93L421.32 273.68L417.77 269.93Z" fill="#008000"/>
<path d="M428.95 266.25L432.5 270L428.95 273.75L425.4 270Z" fill="#008000"/>
<path d="M436.58 266.24L440.13 269.99L436.58 273.74L433.03 269.99Z" fill="#008000"/>
<path d="M444.21 266.15L447.76 269.9L444.21 273.65L440.66 269.9Z" fill="#008000"/>
<path d="M451.84 266L455.39 269.75L451.84 273.5L448.29 269.75Z" fill="#008000"/>
<path d="M459.47 265.81L463.02 269.56L459.47 273.31L455.92 269.56Z" fill="#008000"/>
<path d="M467.1 265.49L470.65 269.24L467.1 272.99L463.55 269.24Z" fill="#008000"/>
<path d="M474.73 264.9L478.28 268.65L474.73 272.4L471.18 268.65Z" fill="#008000"/>
<path d="M482.36 264.06L485.91 267.81L482.36 271.56L478.81 267.81Z" fill="#008000"/>
<path d="M489.99 263.15L493.54 266.9L489.99 270.65L486.44 266.9Z" fill="#008000"/>
<path d="M497.62 262.3L501.17 266.05L497.62 269.8L494.07 266.05Z" fill="#008000"/>
<path d="M505.25 261.39L508.8 265.14L505.25 268.89L501.7 265.14Z" fill="#008000"/>
<path d="M512.88 260.42L516.43 264.17L512.88 267.92L509.33 264.17Z" fill="#008000"/>
<path d="M520.51 259.44L524.06 263.19L520.51 266.94L516.96 263.19Z" fill="#008000"/>
<path d="M528.14 258.48L531.69 262.23L528.14 265.98L524.59 262.23Z" fill="#008000"/>
<path d="M314.5 251L316.33 251.08L318.16 251.16L320 251.25L321.83 251.33L323.66 251.41L325.49 251.49L327.32 251.57L329.16 251.64L330.99 251.72L332.82 251.8L334.65 251.88L336.48 251.95L338.32 252.03L340.15 252.1L341.98 252.18L343.81 252.25L345.64 252.33L347.47 252.4L349.31 252.47L351.14 252.54L352.97 252.61L354.8 252.68L356.63 252.75L358.47 252.82L360.3 252.89L362.13 252.96L363.96 253.02L365.79 253.09L367.63 253.15L369.46 253.22L371.29 253.28L373.12 253.35L374.95 253.41L376.79 253.47L378.62 253.54L380.45 253.6L382.28 253.67L384.11 253.74L385.95 253.81L387.78 253.88L389.61 253.95L391.44 254.03L393.27 254.11L395.11 254.19L396.94 254.27L398.77 254.36L400.6 254.44L402.43 254.53L404.26 254.61L406.1 254.69L407.93 254.77L409.76 254.84L411.59 254.92L413.42 254.99L415.26 255.06L417.09 255.13L418.92 255.2L420.75 255.27L422.58 255.33L424.42 255.39L426.25 255.45L428.08 255.5L429.91 255.56L431.74 255.62L433.58 255.68L435.41 255.74L437.24 255.8L439.07 255.86L440.9 255.92L442.74 255.98L444.57 256.03L446.4 256.09L448.23 256.14L450.06 256.19L451.89 256.24L453.73 256.28L455.56 256.32L457.39 256.37L459.22 256.4L461.05 256.44L462.89 256.47L464.72 256.46L466.55 256.42L468.38 256.37L470.21 256.3L472.05 256.22L473.88 256.15L475.71 256.05L477.54 255.93L479.37 255.8L481.21 255.66L483.04 255.52L484.87 255.38L486.7 255.23L488.53 255.08L490.37 254.92L492.2 254.77L494.03 254.62L495.86 254.46L497.69 254.31L499.53 254.16L501.36 254.01L503.19 253.85L505.02 253.69L506.85 253.51L508.68 253.33L510.52 253.15L512.35 252.96L514.18 252.76L516.01 252.56L517.84 252.35L519.68 252.13L521.51 251.92L523.34 251.7L525.17 251.48L527 251.25L528.84 251.01L530.67 250.77L532.5 250.5" fill="none" stroke="#000080" stroke-width="1.6"/>
<path d="M311.6 251L317.4 247.3L317.4 254.7Z" fill="#000080"/>
<path d="M319.23 251.34L325.03 247.64L325.03 255.04Z" fill="#000080"/>
<path d="M326.86 251.67L332.66 247.97L332.66 255.37Z" fill="#000080"/>
<path d="M334.49 251.99L340.29 248.29L340.29 255.69Z" fill="#000080"/>
<path d="M342.12 252.3L347.92 248.6L347.92 256Z" fill="#000080"/>
<path d="M349.75 252.6L355.55 248.9L355.55 256.3Z" fill="#000080"/>
<path d="M357.38 252.89L363.18 249.19L363.18 256.59Z" fill="#000080"/>
<path d="M365.01 253.16L370.81 249.46L370.81 256.86Z" fill="#000080"/>
<path d="M372.64 253.43L378.44 249.73L378.44 257.13Z" fill="#000080"/>
<path d="M380.27 253.7L386.07 250L386.07 257.4Z" fill="#000080"/>
<path d="M387.9 254L393.7 250.3L393.7 257.7Z" fill="#000080"/>
<path d="M395.53 254.34L401.33 250.64L401.33 258.04Z" fill="#000080"/>
<path d="M403.16 254.69L408.96 250.99L408.96 258.39Z" fill="#000080"/>
<path d="M410.79 255L416.59 251.3L416.59 258.7Z" fill="#000080"/>
<path d="M418.42 255.29L424.22 251.59L424.22 258.99Z" fill="#000080"/>
<path d="M426.05 255.53L431.85 251.83L431.85 259.23Z" fill="#000080"/>
<path d="M433.68 255.78L439.48 252.08L439.48 259.48Z" fill="#000080"/>
<path d="M441.31 256.02L447.11 252.32L447.11 259.72Z" fill="#000080"/>
<path d="M448.94 256.24L454.74 252.54L454.74 259.94Z" fill="#000080"/>
<path d="M456.57 256.41L462.37 252.71L462.37 260.11Z" fill="#000080"/>
<path d="M464.2 256.4L470 252.7L470 260.1Z" fill="#000080"/>
<path d="M471.83 256.11L477.63 252.41L477.63 259.81Z" fill="#000080"/>
<path d="M479.46 255.57L485.26 251.87L485.26 259.27Z" fill="#000080"/>
<path d="M487.09 254.95L492.89 251.25L492.89 258.65Z" fill="#000080"/>
<path d="M494.72 254.32L500.52 250.62L500.52 258.02Z" fill="#000080"/>
<path d="M502.35 253.67L508.15 249.97L508.15 257.37Z" fill="#000080"/>
<path d="M509.98 252.9L515.78 249.2L515.78 256.6Z" fill="#000080"/>
<path d="M517.61 252.04L523.41 248.34L523.41 255.74Z" fill="#000080"/>
<path d="M525.24 251.11L531.04 247.41L531.04 254.81Z" fill="#000080"/>
<circle cx="405.4" cy="350.2" r="3.25" fill="#ff0000"/>
<text transform="translate(418.7 353.6) skewX(0.4)" class="lg"><tspan class="B">B</tspan> = 0.1 T</text>
<path d="M405.4 366.77L408.9 360.67L401.9 360.67Z" fill="#ff00ff"/>
<text transform="translate(418.7 366.1) skewX(0.4)" class="lg"><tspan class="B">B</tspan> = 0.3 T</text>
<path d="M402.5 375L408.3 371.3L408.3 378.7Z" fill="#000080"/>
<text transform="translate(418.7 378.4) skewX(0.4)" class="lg"><tspan class="B">B</tspan> = 0.5 T</text>
<path d="M484.3 346.13L487.8 352.23L480.8 352.23Z" fill="#0000ff"/>
<text transform="translate(497.8 353.6) skewX(0.4)" class="lg"><tspan class="B">B</tspan> = 0.2 T</text>
<path d="M484.3 358.95L487.85 362.7L484.3 366.45L480.75 362.7Z" fill="#008000"/>
<text transform="translate(497.8 366.1) skewX(0.4)" class="lg"><tspan class="B">B</tspan> = 0.4 T</text>
</svg>
</body></html>
